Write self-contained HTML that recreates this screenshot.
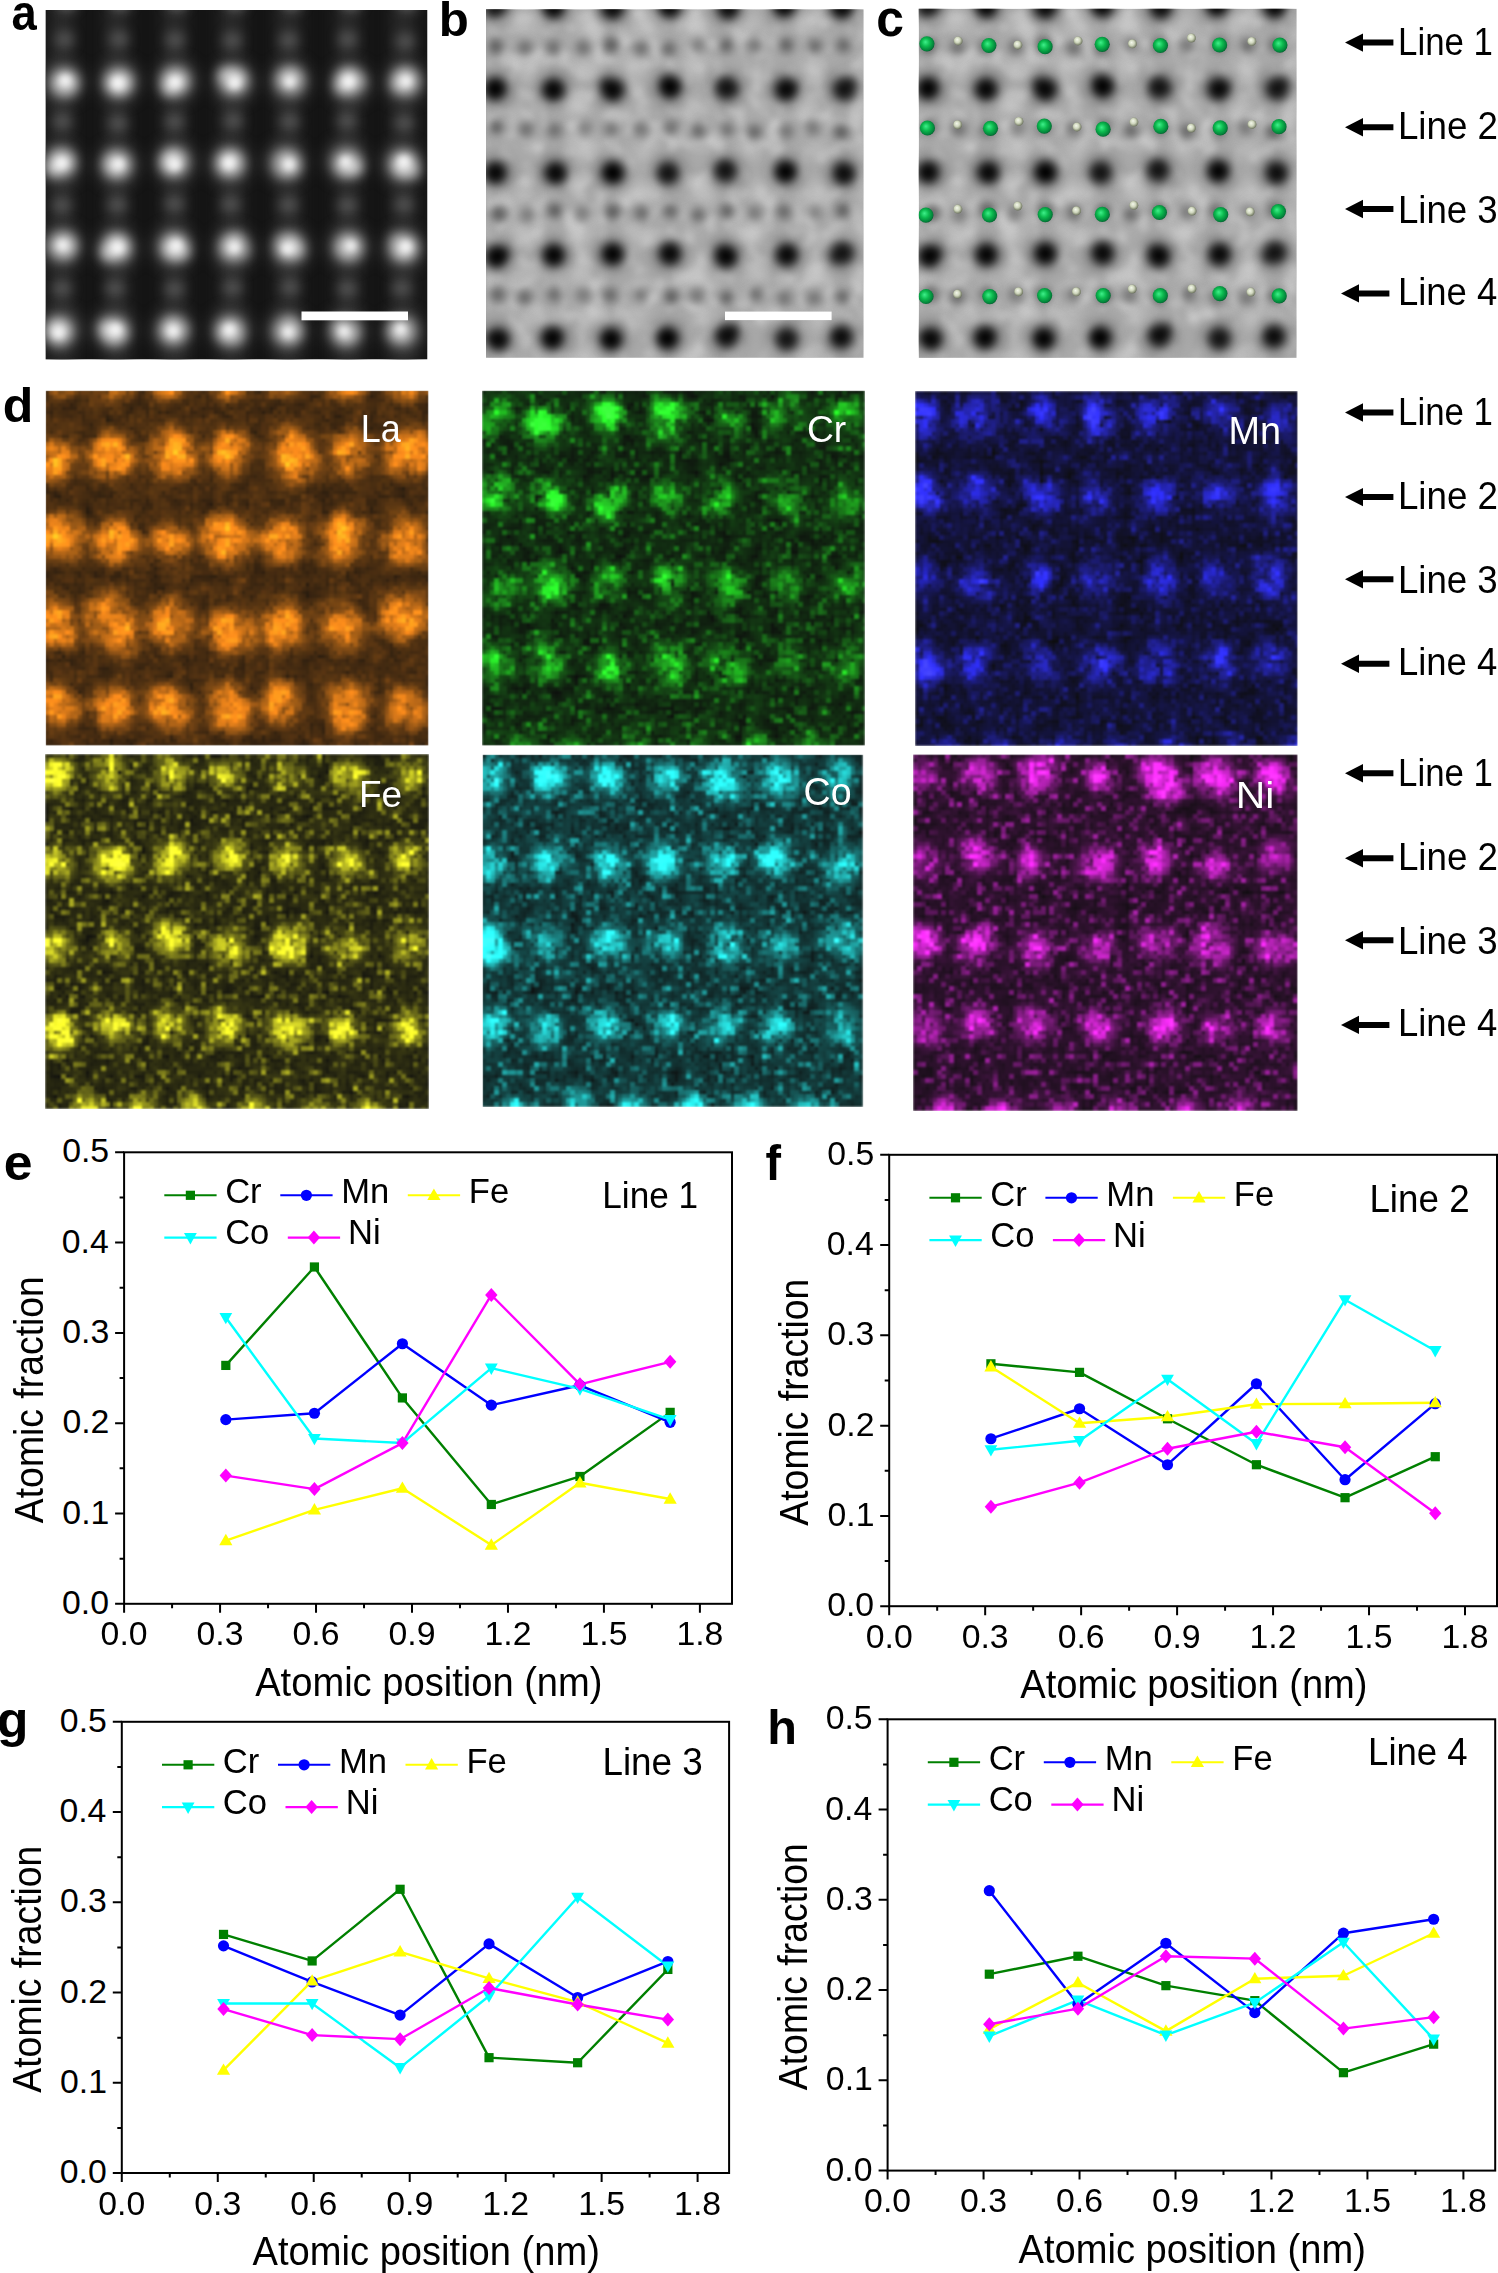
<!DOCTYPE html>
<html><head><meta charset="utf-8"><style>html,body{margin:0;padding:0;background:#fff;}body{width:1498px;height:2273px;overflow:hidden;} svg{display:block;} text{font-kerning:none;font-variant-ligatures:none;}</style></head><body>
<svg width="1498" height="2273" viewBox="0 0 1498 2273">
<defs>
<filter id="blur3" x="-50%" y="-50%" width="200%" height="200%" color-interpolation-filters="sRGB"><feGaussianBlur stdDeviation="3"/></filter>
<filter id="blur5" x="-50%" y="-50%" width="200%" height="200%" color-interpolation-filters="sRGB"><feGaussianBlur stdDeviation="5"/></filter>
<filter id="blur6" x="-50%" y="-50%" width="200%" height="200%" color-interpolation-filters="sRGB"><feGaussianBlur stdDeviation="6"/></filter>
<filter id="blur8" x="-50%" y="-50%" width="200%" height="200%" color-interpolation-filters="sRGB"><feGaussianBlur stdDeviation="8"/></filter>
<filter id="mottle" x="0" y="0" width="1" height="1" color-interpolation-filters="sRGB">
<feTurbulence type="fractalNoise" baseFrequency="0.05" numOctaves="2" seed="5"/>
<feColorMatrix type="matrix" values="0 0 0 0 1  0 0 0 0 1  0 0 0 0 1  1.0 0 0 0 -0.42"/>
<feGaussianBlur stdDeviation="2.5"/>
</filter>
<radialGradient id="gsph" cx="0.45" cy="0.45" r="0.6" fx="0.4" fy="0.38">
<stop offset="0" stop-color="#3ef08a"/><stop offset="0.45" stop-color="#0cba4e"/><stop offset="0.85" stop-color="#03803a"/><stop offset="1" stop-color="#024a22"/></radialGradient>
<radialGradient id="wsph" cx="0.45" cy="0.45" r="0.6" fx="0.4" fy="0.35">
<stop offset="0" stop-color="#f4f8ec"/><stop offset="0.5" stop-color="#cfd6bd"/><stop offset="1" stop-color="#5f6650"/></radialGradient>

<clipPath id="clipA"><rect x="45.5" y="10.0" width="382.0" height="349.5"/></clipPath>
<g id="abf">
<rect x="0" y="0" width="378.0" height="349.0" fill="#ababab"/>
<rect x="0" y="0" width="378.0" height="349.0" filter="url(#mottle)" />
<g filter="url(#blur8)">
<circle cx="-15.7" cy="-23.9" r="7.3" fill="#cdcdcd"/>
<circle cx="47.0" cy="-26.4" r="8.1" fill="#cdcdcd"/>
<circle cx="44.0" cy="14.6" r="7.5" fill="#cdcdcd"/>
<circle cx="103.3" cy="-22.1" r="8.0" fill="#cdcdcd"/>
<circle cx="103.5" cy="16.4" r="9.8" fill="#cdcdcd"/>
<circle cx="147.2" cy="-22.9" r="8.7" fill="#cdcdcd"/>
<circle cx="161.3" cy="16.8" r="10.2" fill="#cdcdcd"/>
<circle cx="217.7" cy="-26.6" r="10.5" fill="#cdcdcd"/>
<circle cx="209.4" cy="16.3" r="10.7" fill="#cdcdcd"/>
<circle cx="264.1" cy="-23.8" r="8.0" fill="#cdcdcd"/>
<circle cx="264.6" cy="13.3" r="7.8" fill="#cdcdcd"/>
<circle cx="324.6" cy="-22.4" r="8.2" fill="#cdcdcd"/>
<circle cx="322.6" cy="15.1" r="7.1" fill="#cdcdcd"/>
<circle cx="377.4" cy="-22.6" r="9.2" fill="#cdcdcd"/>
<circle cx="384.8" cy="18.6" r="7.4" fill="#cdcdcd"/>
<circle cx="-17.8" cy="100.5" r="8.6" fill="#cdcdcd"/>
<circle cx="42.5" cy="61.4" r="8.4" fill="#cdcdcd"/>
<circle cx="98.9" cy="57.9" r="8.4" fill="#cdcdcd"/>
<circle cx="90.8" cy="95.9" r="10.0" fill="#cdcdcd"/>
<circle cx="148.9" cy="56.0" r="10.4" fill="#cdcdcd"/>
<circle cx="208.5" cy="57.0" r="8.2" fill="#cdcdcd"/>
<circle cx="206.5" cy="98.2" r="8.1" fill="#cdcdcd"/>
<circle cx="323.7" cy="61.3" r="8.2" fill="#cdcdcd"/>
<circle cx="319.8" cy="97.8" r="8.9" fill="#cdcdcd"/>
<circle cx="380.4" cy="58.5" r="7.0" fill="#cdcdcd"/>
<circle cx="378.6" cy="97.9" r="7.2" fill="#cdcdcd"/>
<circle cx="-20.8" cy="139.9" r="9.3" fill="#cdcdcd"/>
<circle cx="-13.7" cy="182.4" r="9.9" fill="#cdcdcd"/>
<circle cx="36.7" cy="184.4" r="7.6" fill="#cdcdcd"/>
<circle cx="99.0" cy="138.8" r="10.3" fill="#cdcdcd"/>
<circle cx="158.0" cy="143.4" r="7.6" fill="#cdcdcd"/>
<circle cx="154.3" cy="183.5" r="10.2" fill="#cdcdcd"/>
<circle cx="218.3" cy="182.6" r="9.8" fill="#cdcdcd"/>
<circle cx="262.5" cy="139.3" r="8.4" fill="#cdcdcd"/>
<circle cx="275.4" cy="181.9" r="9.5" fill="#cdcdcd"/>
<circle cx="330.6" cy="141.4" r="7.0" fill="#cdcdcd"/>
<circle cx="331.7" cy="181.5" r="9.1" fill="#cdcdcd"/>
<circle cx="378.3" cy="142.9" r="8.0" fill="#cdcdcd"/>
<circle cx="381.4" cy="182.9" r="7.8" fill="#cdcdcd"/>
<circle cx="-10.1" cy="224.5" r="8.5" fill="#cdcdcd"/>
<circle cx="-14.8" cy="266.1" r="9.5" fill="#cdcdcd"/>
<circle cx="32.7" cy="222.4" r="8.0" fill="#cdcdcd"/>
<circle cx="36.4" cy="264.9" r="7.0" fill="#cdcdcd"/>
<circle cx="93.1" cy="225.5" r="9.8" fill="#cdcdcd"/>
<circle cx="93.4" cy="264.6" r="8.9" fill="#cdcdcd"/>
<circle cx="148.1" cy="226.9" r="7.8" fill="#cdcdcd"/>
<circle cx="211.3" cy="266.4" r="10.9" fill="#cdcdcd"/>
<circle cx="266.3" cy="222.8" r="10.8" fill="#cdcdcd"/>
<circle cx="271.3" cy="262.4" r="9.1" fill="#cdcdcd"/>
<circle cx="332.9" cy="264.6" r="10.5" fill="#cdcdcd"/>
<circle cx="380.9" cy="226.9" r="8.9" fill="#cdcdcd"/>
<circle cx="377.3" cy="264.5" r="8.8" fill="#cdcdcd"/>
<circle cx="-23.4" cy="306.6" r="8.3" fill="#cdcdcd"/>
<circle cx="43.5" cy="309.5" r="7.5" fill="#cdcdcd"/>
<circle cx="103.2" cy="306.2" r="8.5" fill="#cdcdcd"/>
<circle cx="104.7" cy="348.0" r="8.4" fill="#cdcdcd"/>
<circle cx="150.7" cy="304.8" r="7.4" fill="#cdcdcd"/>
<circle cx="219.0" cy="306.0" r="8.1" fill="#cdcdcd"/>
<circle cx="207.0" cy="346.7" r="10.8" fill="#cdcdcd"/>
<circle cx="334.4" cy="310.1" r="9.2" fill="#cdcdcd"/>
<circle cx="320.5" cy="348.9" r="8.8" fill="#cdcdcd"/>
<circle cx="387.5" cy="306.2" r="7.2" fill="#cdcdcd"/>
</g>
<g filter="url(#blur5)">
<circle cx="9.7" cy="37.1" r="7.5" fill="rgb(84,84,84)"/>
<circle cx="39.0" cy="38.7" r="7.5" fill="rgb(104,104,104)"/>
<circle cx="67.6" cy="38.3" r="7.5" fill="rgb(100,100,100)"/>
<circle cx="97.3" cy="38.3" r="7.5" fill="rgb(104,104,104)"/>
<circle cx="124.9" cy="35.8" r="7.5" fill="rgb(83,83,83)"/>
<circle cx="155.0" cy="39.1" r="7.5" fill="rgb(101,101,101)"/>
<circle cx="182.7" cy="39.5" r="7.5" fill="rgb(97,97,97)"/>
<circle cx="212.4" cy="35.7" r="7.5" fill="rgb(119,119,119)"/>
<circle cx="240.4" cy="35.9" r="7.5" fill="rgb(86,86,86)"/>
<circle cx="268.6" cy="36.2" r="7.5" fill="rgb(112,112,112)"/>
<circle cx="300.2" cy="36.0" r="7.5" fill="rgb(88,88,88)"/>
<circle cx="328.8" cy="37.1" r="7.5" fill="rgb(95,95,95)"/>
<circle cx="357.6" cy="36.1" r="7.5" fill="rgb(93,93,93)"/>
<circle cx="10.4" cy="118.3" r="7.5" fill="rgb(88,88,88)"/>
<circle cx="40.1" cy="119.8" r="7.5" fill="rgb(103,103,103)"/>
<circle cx="68.6" cy="121.1" r="7.5" fill="rgb(101,101,101)"/>
<circle cx="98.8" cy="118.5" r="7.5" fill="rgb(122,122,122)"/>
<circle cx="125.2" cy="120.0" r="7.5" fill="rgb(108,108,108)"/>
<circle cx="154.7" cy="119.6" r="7.5" fill="rgb(109,109,109)"/>
<circle cx="185.3" cy="118.1" r="7.5" fill="rgb(106,106,106)"/>
<circle cx="212.3" cy="121.8" r="7.5" fill="rgb(96,96,96)"/>
<circle cx="241.3" cy="120.9" r="7.5" fill="rgb(105,105,105)"/>
<circle cx="268.5" cy="122.7" r="7.5" fill="rgb(95,95,95)"/>
<circle cx="300.3" cy="122.3" r="7.5" fill="rgb(109,109,109)"/>
<circle cx="326.8" cy="118.5" r="7.5" fill="rgb(109,109,109)"/>
<circle cx="355.2" cy="122.9" r="7.5" fill="rgb(84,84,84)"/>
<circle cx="12.8" cy="204.6" r="7.5" fill="rgb(83,83,83)"/>
<circle cx="41.2" cy="205.5" r="7.5" fill="rgb(115,115,115)"/>
<circle cx="68.8" cy="201.2" r="7.5" fill="rgb(82,82,82)"/>
<circle cx="95.9" cy="203.8" r="7.5" fill="rgb(120,120,120)"/>
<circle cx="126.8" cy="202.5" r="7.5" fill="rgb(81,81,81)"/>
<circle cx="155.5" cy="203.6" r="7.5" fill="rgb(99,99,99)"/>
<circle cx="184.6" cy="201.6" r="7.5" fill="rgb(93,93,93)"/>
<circle cx="211.8" cy="205.7" r="7.5" fill="rgb(97,97,97)"/>
<circle cx="241.0" cy="202.1" r="7.5" fill="rgb(86,86,86)"/>
<circle cx="268.2" cy="203.7" r="7.5" fill="rgb(114,114,114)"/>
<circle cx="298.1" cy="202.6" r="7.5" fill="rgb(94,94,94)"/>
<circle cx="329.3" cy="203.4" r="7.5" fill="rgb(121,121,121)"/>
<circle cx="356.8" cy="201.1" r="7.5" fill="rgb(87,87,87)"/>
<circle cx="11.8" cy="285.5" r="7.5" fill="rgb(93,93,93)"/>
<circle cx="38.6" cy="288.4" r="7.5" fill="rgb(95,95,95)"/>
<circle cx="68.3" cy="285.3" r="7.5" fill="rgb(100,100,100)"/>
<circle cx="97.1" cy="285.9" r="7.5" fill="rgb(116,116,116)"/>
<circle cx="124.3" cy="285.7" r="7.5" fill="rgb(95,95,95)"/>
<circle cx="154.4" cy="286.0" r="7.5" fill="rgb(108,108,108)"/>
<circle cx="185.0" cy="287.7" r="7.5" fill="rgb(80,80,80)"/>
<circle cx="210.9" cy="286.5" r="7.5" fill="rgb(111,111,111)"/>
<circle cx="240.6" cy="288.1" r="7.5" fill="rgb(86,86,86)"/>
<circle cx="270.1" cy="285.3" r="7.5" fill="rgb(102,102,102)"/>
<circle cx="298.2" cy="288.8" r="7.5" fill="rgb(108,108,108)"/>
<circle cx="328.2" cy="288.5" r="7.5" fill="rgb(110,110,110)"/>
<circle cx="356.3" cy="287.3" r="7.5" fill="rgb(95,95,95)"/>
</g>
<g filter="url(#blur8)">
<circle cx="11.0" cy="-3.0" r="17" fill="#7a7a7a"/>
<circle cx="68.0" cy="-3.0" r="17" fill="#7a7a7a"/>
<circle cx="125.5" cy="-3.0" r="17" fill="#7a7a7a"/>
<circle cx="183.0" cy="-3.0" r="17" fill="#7a7a7a"/>
<circle cx="241.0" cy="-3.0" r="17" fill="#7a7a7a"/>
<circle cx="299.0" cy="-3.0" r="17" fill="#7a7a7a"/>
<circle cx="356.5" cy="-3.0" r="17" fill="#7a7a7a"/>
<circle cx="11.0" cy="79.5" r="17" fill="#7a7a7a"/>
<circle cx="68.0" cy="79.5" r="17" fill="#7a7a7a"/>
<circle cx="125.5" cy="79.5" r="17" fill="#7a7a7a"/>
<circle cx="183.0" cy="79.5" r="17" fill="#7a7a7a"/>
<circle cx="241.0" cy="79.5" r="17" fill="#7a7a7a"/>
<circle cx="299.0" cy="79.5" r="17" fill="#7a7a7a"/>
<circle cx="356.5" cy="79.5" r="17" fill="#7a7a7a"/>
<circle cx="11.0" cy="162.5" r="17" fill="#7a7a7a"/>
<circle cx="68.0" cy="162.5" r="17" fill="#7a7a7a"/>
<circle cx="125.5" cy="162.5" r="17" fill="#7a7a7a"/>
<circle cx="183.0" cy="162.5" r="17" fill="#7a7a7a"/>
<circle cx="241.0" cy="162.5" r="17" fill="#7a7a7a"/>
<circle cx="299.0" cy="162.5" r="17" fill="#7a7a7a"/>
<circle cx="356.5" cy="162.5" r="17" fill="#7a7a7a"/>
<circle cx="11.0" cy="245.5" r="17" fill="#7a7a7a"/>
<circle cx="68.0" cy="245.5" r="17" fill="#7a7a7a"/>
<circle cx="125.5" cy="245.5" r="17" fill="#7a7a7a"/>
<circle cx="183.0" cy="245.5" r="17" fill="#7a7a7a"/>
<circle cx="241.0" cy="245.5" r="17" fill="#7a7a7a"/>
<circle cx="299.0" cy="245.5" r="17" fill="#7a7a7a"/>
<circle cx="356.5" cy="245.5" r="17" fill="#7a7a7a"/>
<circle cx="11.0" cy="328.5" r="17" fill="#7a7a7a"/>
<circle cx="68.0" cy="328.5" r="17" fill="#7a7a7a"/>
<circle cx="125.5" cy="328.5" r="17" fill="#7a7a7a"/>
<circle cx="183.0" cy="328.5" r="17" fill="#7a7a7a"/>
<circle cx="241.0" cy="328.5" r="17" fill="#7a7a7a"/>
<circle cx="299.0" cy="328.5" r="17" fill="#7a7a7a"/>
<circle cx="356.5" cy="328.5" r="17" fill="#7a7a7a"/>
</g>
<g filter="url(#blur5)">
<circle cx="9.6" cy="-3.4" r="11" fill="rgb(19,19,19)"/>
<circle cx="6.1" cy="1.3" r="7" fill="rgb(19,19,19)"/>
<circle cx="67.7" cy="-2.2" r="11" fill="rgb(4,4,4)"/>
<circle cx="63.9" cy="-2.7" r="7" fill="rgb(4,4,4)"/>
<circle cx="126.4" cy="-1.0" r="11" fill="rgb(10,10,10)"/>
<circle cx="131.6" cy="-2.7" r="7" fill="rgb(10,10,10)"/>
<circle cx="183.6" cy="-2.9" r="11" fill="rgb(5,5,5)"/>
<circle cx="183.2" cy="-4.8" r="7" fill="rgb(5,5,5)"/>
<circle cx="242.4" cy="-1.1" r="11" fill="rgb(12,12,12)"/>
<circle cx="241.7" cy="-5.0" r="7" fill="rgb(12,12,12)"/>
<circle cx="298.1" cy="-3.6" r="11" fill="rgb(2,2,2)"/>
<circle cx="303.6" cy="-7.4" r="7" fill="rgb(2,2,2)"/>
<circle cx="356.0" cy="-1.9" r="11" fill="rgb(6,6,6)"/>
<circle cx="353.7" cy="1.1" r="7" fill="rgb(6,6,6)"/>
<circle cx="9.2" cy="79.4" r="11" fill="rgb(2,2,2)"/>
<circle cx="7.7" cy="83.6" r="7" fill="rgb(2,2,2)"/>
<circle cx="67.3" cy="80.4" r="11" fill="rgb(6,6,6)"/>
<circle cx="67.0" cy="81.8" r="7" fill="rgb(6,6,6)"/>
<circle cx="126.7" cy="80.6" r="11" fill="rgb(7,7,7)"/>
<circle cx="121.2" cy="75.9" r="7" fill="rgb(7,7,7)"/>
<circle cx="184.2" cy="77.7" r="11" fill="rgb(2,2,2)"/>
<circle cx="180.6" cy="73.4" r="7" fill="rgb(2,2,2)"/>
<circle cx="240.4" cy="78.6" r="11" fill="rgb(19,19,19)"/>
<circle cx="245.8" cy="79.8" r="7" fill="rgb(19,19,19)"/>
<circle cx="300.0" cy="80.3" r="11" fill="rgb(8,8,8)"/>
<circle cx="305.1" cy="78.2" r="7" fill="rgb(8,8,8)"/>
<circle cx="358.2" cy="80.0" r="11" fill="rgb(19,19,19)"/>
<circle cx="363.5" cy="75.3" r="7" fill="rgb(19,19,19)"/>
<circle cx="9.4" cy="163.4" r="11" fill="rgb(7,7,7)"/>
<circle cx="9.0" cy="166.1" r="7" fill="rgb(7,7,7)"/>
<circle cx="69.7" cy="163.8" r="11" fill="rgb(8,8,8)"/>
<circle cx="65.2" cy="163.7" r="7" fill="rgb(8,8,8)"/>
<circle cx="126.7" cy="163.5" r="11" fill="rgb(0,0,0)"/>
<circle cx="130.6" cy="166.2" r="7" fill="rgb(0,0,0)"/>
<circle cx="181.9" cy="163.9" r="11" fill="rgb(19,19,19)"/>
<circle cx="181.5" cy="166.8" r="7" fill="rgb(19,19,19)"/>
<circle cx="239.3" cy="161.3" r="11" fill="rgb(19,19,19)"/>
<circle cx="242.4" cy="158.8" r="7" fill="rgb(19,19,19)"/>
<circle cx="299.6" cy="162.4" r="11" fill="rgb(2,2,2)"/>
<circle cx="300.1" cy="159.0" r="7" fill="rgb(2,2,2)"/>
<circle cx="358.0" cy="164.5" r="11" fill="rgb(13,13,13)"/>
<circle cx="355.2" cy="160.3" r="7" fill="rgb(13,13,13)"/>
<circle cx="10.7" cy="247.5" r="11" fill="rgb(3,3,3)"/>
<circle cx="16.3" cy="244.2" r="7" fill="rgb(3,3,3)"/>
<circle cx="67.7" cy="246.0" r="11" fill="rgb(4,4,4)"/>
<circle cx="69.8" cy="248.5" r="7" fill="rgb(4,4,4)"/>
<circle cx="126.6" cy="244.7" r="11" fill="rgb(3,3,3)"/>
<circle cx="124.0" cy="242.4" r="7" fill="rgb(3,3,3)"/>
<circle cx="184.0" cy="244.3" r="11" fill="rgb(8,8,8)"/>
<circle cx="180.9" cy="241.8" r="7" fill="rgb(8,8,8)"/>
<circle cx="240.1" cy="247.1" r="11" fill="rgb(4,4,4)"/>
<circle cx="236.4" cy="242.8" r="7" fill="rgb(4,4,4)"/>
<circle cx="301.0" cy="245.5" r="11" fill="rgb(8,8,8)"/>
<circle cx="297.7" cy="248.6" r="7" fill="rgb(8,8,8)"/>
<circle cx="356.4" cy="243.6" r="11" fill="rgb(20,20,20)"/>
<circle cx="350.4" cy="247.5" r="7" fill="rgb(20,20,20)"/>
<circle cx="12.4" cy="330.2" r="11" fill="rgb(7,7,7)"/>
<circle cx="6.8" cy="328.1" r="7" fill="rgb(7,7,7)"/>
<circle cx="66.2" cy="328.9" r="11" fill="rgb(3,3,3)"/>
<circle cx="70.1" cy="325.8" r="7" fill="rgb(3,3,3)"/>
<circle cx="125.0" cy="330.0" r="11" fill="rgb(2,2,2)"/>
<circle cx="124.4" cy="327.6" r="7" fill="rgb(2,2,2)"/>
<circle cx="181.4" cy="328.9" r="11" fill="rgb(0,0,0)"/>
<circle cx="182.9" cy="326.1" r="7" fill="rgb(0,0,0)"/>
<circle cx="240.4" cy="326.7" r="11" fill="rgb(11,11,11)"/>
<circle cx="246.4" cy="322.1" r="7" fill="rgb(11,11,11)"/>
<circle cx="300.7" cy="329.8" r="11" fill="rgb(20,20,20)"/>
<circle cx="304.5" cy="328.8" r="7" fill="rgb(20,20,20)"/>
<circle cx="355.2" cy="327.7" r="11" fill="rgb(11,11,11)"/>
<circle cx="351.7" cy="330.7" r="7" fill="rgb(11,11,11)"/>
</g>
</g>
<clipPath id="clipB"><rect x="486" y="9.3" width="377.5" height="348.5"/></clipPath>
<clipPath id="clipC"><rect x="918.7" y="8.8" width="378" height="349.2"/></clipPath>
<clipPath id="clipLa"><rect x="45.8" y="390.8" width="382.6" height="354.7"/></clipPath>
<filter id="noiseLa" filterUnits="userSpaceOnUse" x="45" y="390" width="384" height="356" color-interpolation-filters="sRGB">
<feGaussianBlur in="SourceGraphic" stdDeviation="7.0" result="b"/>
<feTurbulence type="fractalNoise" baseFrequency="0.200" numOctaves="1" seed="3" result="nh0"/>
<feColorMatrix in="nh0" type="matrix" values="1 0 0 0 0  1 0 0 0 0  1 0 0 0 0  0 0 0 0 1" result="nh"/>
<feTurbulence type="fractalNoise" baseFrequency="0.060" numOctaves="2" seed="103" result="nl0"/>
<feColorMatrix in="nl0" type="matrix" values="1 0 0 0 0  1 0 0 0 0  1 0 0 0 0  0 0 0 0 1" result="nl"/>
<feComposite in="nh" in2="nl" operator="arithmetic" k1="0" k2="0.50" k3="0.60" k4="-0.050" result="n2"/>
<feComposite in="b" in2="n2" operator="arithmetic" k1="1.95" k2="0" k3="0" k4="0" result="m"/>
<feTurbulence type="fractalNoise" baseFrequency="0.13" numOctaves="2" seed="203" result="sp0"/>
<feColorMatrix in="sp0" type="matrix" values="0 0 0 0 0  0 0 0 0 0  0 0 0 0 0  0 4.00 0 0 -2.240" result="spa"/>
<feFlood flood-color="#ff8810" result="fc"/>
<feComposite in="fc" in2="spa" operator="in" result="cs"/>
<feComposite in="m" in2="cs" operator="arithmetic" k1="0" k2="1" k3="0.10" k4="0.050" result="m2"/>
<feFlood x="47" y="392" width="1" height="1" flood-color="#fff" result="fl"/>
<feComposite in="fl" in2="fl" operator="over" x="45" y="390" width="4" height="4" result="cell"/>
<feTile in="cell" x="45" y="390" width="384" height="356" result="grid"/>
<feComposite in="m2" in2="grid" operator="in" result="s"/>
<feMorphology in="s" operator="dilate" radius="2" result="p"/>
<feGaussianBlur in="p" stdDeviation="1.1"/>
</filter>
<clipPath id="clipCr"><rect x="482.0" y="390.7" width="383.0" height="354.8"/></clipPath>
<filter id="noiseCr" filterUnits="userSpaceOnUse" x="482" y="390" width="383" height="356" color-interpolation-filters="sRGB">
<feGaussianBlur in="SourceGraphic" stdDeviation="6.0" result="b"/>
<feTurbulence type="fractalNoise" baseFrequency="0.200" numOctaves="1" seed="11" result="nh0"/>
<feColorMatrix in="nh0" type="matrix" values="1 0 0 0 0  1 0 0 0 0  1 0 0 0 0  0 0 0 0 1" result="nh"/>
<feTurbulence type="fractalNoise" baseFrequency="0.060" numOctaves="2" seed="111" result="nl0"/>
<feColorMatrix in="nl0" type="matrix" values="1 0 0 0 0  1 0 0 0 0  1 0 0 0 0  0 0 0 0 1" result="nl"/>
<feComposite in="nh" in2="nl" operator="arithmetic" k1="0" k2="0.90" k3="1.20" k4="-0.550" result="n2"/>
<feComposite in="b" in2="n2" operator="arithmetic" k1="2.40" k2="0" k3="0" k4="0" result="m"/>
<feTurbulence type="fractalNoise" baseFrequency="0.13" numOctaves="2" seed="211" result="sp0"/>
<feColorMatrix in="sp0" type="matrix" values="0 0 0 0 0  0 0 0 0 0  0 0 0 0 0  0 4.00 0 0 -2.240" result="spa"/>
<feFlood flood-color="#1ee61e" result="fc"/>
<feComposite in="fc" in2="spa" operator="in" result="cs"/>
<feComposite in="m" in2="cs" operator="arithmetic" k1="0" k2="1" k3="0.45" k4="0.050" result="m2"/>
<feFlood x="484" y="392" width="1" height="1" flood-color="#fff" result="fl"/>
<feComposite in="fl" in2="fl" operator="over" x="482" y="390" width="4" height="4" result="cell"/>
<feTile in="cell" x="482" y="390" width="383" height="356" result="grid"/>
<feComposite in="m2" in2="grid" operator="in" result="s"/>
<feMorphology in="s" operator="dilate" radius="2" result="p"/>
<feGaussianBlur in="p" stdDeviation="1.1"/>
</filter>
<clipPath id="clipMn"><rect x="915.0" y="391.0" width="382.6" height="355.0"/></clipPath>
<filter id="noiseMn" filterUnits="userSpaceOnUse" x="915" y="391" width="383" height="355" color-interpolation-filters="sRGB">
<feGaussianBlur in="SourceGraphic" stdDeviation="6.0" result="b"/>
<feTurbulence type="fractalNoise" baseFrequency="0.200" numOctaves="1" seed="17" result="nh0"/>
<feColorMatrix in="nh0" type="matrix" values="1 0 0 0 0  1 0 0 0 0  1 0 0 0 0  0 0 0 0 1" result="nh"/>
<feTurbulence type="fractalNoise" baseFrequency="0.060" numOctaves="2" seed="117" result="nl0"/>
<feColorMatrix in="nl0" type="matrix" values="1 0 0 0 0  1 0 0 0 0  1 0 0 0 0  0 0 0 0 1" result="nl"/>
<feComposite in="nh" in2="nl" operator="arithmetic" k1="0" k2="0.90" k3="1.20" k4="-0.550" result="n2"/>
<feComposite in="b" in2="n2" operator="arithmetic" k1="2.40" k2="0" k3="0" k4="0" result="m"/>
<feTurbulence type="fractalNoise" baseFrequency="0.13" numOctaves="2" seed="217" result="sp0"/>
<feColorMatrix in="sp0" type="matrix" values="0 0 0 0 0  0 0 0 0 0  0 0 0 0 0  0 4.00 0 0 -2.240" result="spa"/>
<feFlood flood-color="#2828ff" result="fc"/>
<feComposite in="fc" in2="spa" operator="in" result="cs"/>
<feComposite in="m" in2="cs" operator="arithmetic" k1="0" k2="1" k3="0.35" k4="0.050" result="m2"/>
<feFlood x="917" y="393" width="1" height="1" flood-color="#fff" result="fl"/>
<feComposite in="fl" in2="fl" operator="over" x="915" y="391" width="4" height="4" result="cell"/>
<feTile in="cell" x="915" y="391" width="383" height="355" result="grid"/>
<feComposite in="m2" in2="grid" operator="in" result="s"/>
<feMorphology in="s" operator="dilate" radius="2" result="p"/>
<feGaussianBlur in="p" stdDeviation="1.1"/>
</filter>
<clipPath id="clipFe"><rect x="45.8" y="754.4" width="382.6" height="354.6"/></clipPath>
<filter id="noiseFe" filterUnits="userSpaceOnUse" x="45" y="754" width="384" height="355" color-interpolation-filters="sRGB">
<feGaussianBlur in="SourceGraphic" stdDeviation="6.0" result="b"/>
<feTurbulence type="fractalNoise" baseFrequency="0.200" numOctaves="1" seed="23" result="nh0"/>
<feColorMatrix in="nh0" type="matrix" values="1 0 0 0 0  1 0 0 0 0  1 0 0 0 0  0 0 0 0 1" result="nh"/>
<feTurbulence type="fractalNoise" baseFrequency="0.060" numOctaves="2" seed="123" result="nl0"/>
<feColorMatrix in="nl0" type="matrix" values="1 0 0 0 0  1 0 0 0 0  1 0 0 0 0  0 0 0 0 1" result="nl"/>
<feComposite in="nh" in2="nl" operator="arithmetic" k1="0" k2="1.00" k3="0.80" k4="-0.400" result="n2"/>
<feComposite in="b" in2="n2" operator="arithmetic" k1="2.40" k2="0" k3="0" k4="0" result="m"/>
<feTurbulence type="fractalNoise" baseFrequency="0.13" numOctaves="2" seed="223" result="sp0"/>
<feColorMatrix in="sp0" type="matrix" values="0 0 0 0 0  0 0 0 0 0  0 0 0 0 0  0 4.00 0 0 -2.240" result="spa"/>
<feFlood flood-color="#e6e61e" result="fc"/>
<feComposite in="fc" in2="spa" operator="in" result="cs"/>
<feComposite in="m" in2="cs" operator="arithmetic" k1="0" k2="1" k3="0.60" k4="0.050" result="m2"/>
<feFlood x="47" y="756" width="1" height="1" flood-color="#fff" result="fl"/>
<feComposite in="fl" in2="fl" operator="over" x="45" y="754" width="4" height="4" result="cell"/>
<feTile in="cell" x="45" y="754" width="384" height="355" result="grid"/>
<feComposite in="m2" in2="grid" operator="in" result="s"/>
<feMorphology in="s" operator="dilate" radius="2" result="p"/>
<feGaussianBlur in="p" stdDeviation="1.1"/>
</filter>
<clipPath id="clipCo"><rect x="482.7" y="754.7" width="380.6" height="352.3"/></clipPath>
<filter id="noiseCo" filterUnits="userSpaceOnUse" x="482" y="754" width="382" height="353" color-interpolation-filters="sRGB">
<feGaussianBlur in="SourceGraphic" stdDeviation="6.0" result="b"/>
<feTurbulence type="fractalNoise" baseFrequency="0.200" numOctaves="1" seed="29" result="nh0"/>
<feColorMatrix in="nh0" type="matrix" values="1 0 0 0 0  1 0 0 0 0  1 0 0 0 0  0 0 0 0 1" result="nh"/>
<feTurbulence type="fractalNoise" baseFrequency="0.060" numOctaves="2" seed="129" result="nl0"/>
<feColorMatrix in="nl0" type="matrix" values="1 0 0 0 0  1 0 0 0 0  1 0 0 0 0  0 0 0 0 1" result="nl"/>
<feComposite in="nh" in2="nl" operator="arithmetic" k1="0" k2="1.00" k3="0.80" k4="-0.400" result="n2"/>
<feComposite in="b" in2="n2" operator="arithmetic" k1="2.40" k2="0" k3="0" k4="0" result="m"/>
<feTurbulence type="fractalNoise" baseFrequency="0.13" numOctaves="2" seed="229" result="sp0"/>
<feColorMatrix in="sp0" type="matrix" values="0 0 0 0 0  0 0 0 0 0  0 0 0 0 0  0 4.00 0 0 -2.240" result="spa"/>
<feFlood flood-color="#1ee6e6" result="fc"/>
<feComposite in="fc" in2="spa" operator="in" result="cs"/>
<feComposite in="m" in2="cs" operator="arithmetic" k1="0" k2="1" k3="0.55" k4="0.050" result="m2"/>
<feFlood x="484" y="756" width="1" height="1" flood-color="#fff" result="fl"/>
<feComposite in="fl" in2="fl" operator="over" x="482" y="754" width="4" height="4" result="cell"/>
<feTile in="cell" x="482" y="754" width="382" height="353" result="grid"/>
<feComposite in="m2" in2="grid" operator="in" result="s"/>
<feMorphology in="s" operator="dilate" radius="2" result="p"/>
<feGaussianBlur in="p" stdDeviation="1.1"/>
</filter>
<clipPath id="clipNi"><rect x="913.0" y="754.4" width="384.6" height="356.6"/></clipPath>
<filter id="noiseNi" filterUnits="userSpaceOnUse" x="913" y="754" width="385" height="357" color-interpolation-filters="sRGB">
<feGaussianBlur in="SourceGraphic" stdDeviation="6.0" result="b"/>
<feTurbulence type="fractalNoise" baseFrequency="0.200" numOctaves="1" seed="31" result="nh0"/>
<feColorMatrix in="nh0" type="matrix" values="1 0 0 0 0  1 0 0 0 0  1 0 0 0 0  0 0 0 0 1" result="nh"/>
<feTurbulence type="fractalNoise" baseFrequency="0.060" numOctaves="2" seed="131" result="nl0"/>
<feColorMatrix in="nl0" type="matrix" values="1 0 0 0 0  1 0 0 0 0  1 0 0 0 0  0 0 0 0 1" result="nl"/>
<feComposite in="nh" in2="nl" operator="arithmetic" k1="0" k2="1.00" k3="0.80" k4="-0.400" result="n2"/>
<feComposite in="b" in2="n2" operator="arithmetic" k1="2.40" k2="0" k3="0" k4="0" result="m"/>
<feTurbulence type="fractalNoise" baseFrequency="0.13" numOctaves="2" seed="231" result="sp0"/>
<feColorMatrix in="sp0" type="matrix" values="0 0 0 0 0  0 0 0 0 0  0 0 0 0 0  0 4.00 0 0 -2.240" result="spa"/>
<feFlood flood-color="#e61ee6" result="fc"/>
<feComposite in="fc" in2="spa" operator="in" result="cs"/>
<feComposite in="m" in2="cs" operator="arithmetic" k1="0" k2="1" k3="0.55" k4="0.050" result="m2"/>
<feFlood x="915" y="756" width="1" height="1" flood-color="#fff" result="fl"/>
<feComposite in="fl" in2="fl" operator="over" x="913" y="754" width="4" height="4" result="cell"/>
<feTile in="cell" x="913" y="754" width="385" height="357" result="grid"/>
<feComposite in="m2" in2="grid" operator="in" result="s"/>
<feMorphology in="s" operator="dilate" radius="2" result="p"/>
<feGaussianBlur in="p" stdDeviation="1.1"/>
</filter>
</defs>
<rect width="1498" height="2273" fill="#fff"/>
<g clip-path="url(#clipA)">
<rect x="45.5" y="10.0" width="382.0" height="349.5" fill="#141414"/>
<g filter="url(#blur8)">
<rect x="50.1" y="0" width="24" height="370" fill="#2a2a2a"/>
<rect x="104.7" y="0" width="24" height="370" fill="#2a2a2a"/>
<rect x="162.3" y="0" width="24" height="370" fill="#2a2a2a"/>
<rect x="219.8" y="0" width="24" height="370" fill="#2a2a2a"/>
<rect x="276.6" y="0" width="24" height="370" fill="#2a2a2a"/>
<rect x="335.8" y="0" width="24" height="370" fill="#2a2a2a"/>
<rect x="391.6" y="0" width="24" height="370" fill="#2a2a2a"/>
</g>
<g filter="url(#blur6)">
<circle cx="64.5" cy="39.5" r="9" fill="#545454"/>
<circle cx="119.0" cy="39.2" r="9" fill="#545454"/>
<circle cx="175.1" cy="40.1" r="9" fill="#545454"/>
<circle cx="232.3" cy="40.5" r="9" fill="#545454"/>
<circle cx="288.6" cy="40.3" r="9" fill="#545454"/>
<circle cx="347.7" cy="39.3" r="9" fill="#545454"/>
<circle cx="405.3" cy="41.5" r="9" fill="#545454"/>
<circle cx="62.2" cy="121.2" r="9" fill="#545454"/>
<circle cx="118.0" cy="123.3" r="9" fill="#545454"/>
<circle cx="174.5" cy="121.7" r="9" fill="#545454"/>
<circle cx="233.2" cy="120.6" r="9" fill="#545454"/>
<circle cx="289.6" cy="121.4" r="9" fill="#545454"/>
<circle cx="346.9" cy="120.9" r="9" fill="#545454"/>
<circle cx="404.2" cy="122.9" r="9" fill="#545454"/>
<circle cx="61.6" cy="205.2" r="9" fill="#545454"/>
<circle cx="117.2" cy="204.6" r="9" fill="#545454"/>
<circle cx="174.4" cy="203.7" r="9" fill="#545454"/>
<circle cx="230.5" cy="204.1" r="9" fill="#545454"/>
<circle cx="288.4" cy="204.8" r="9" fill="#545454"/>
<circle cx="347.4" cy="205.3" r="9" fill="#545454"/>
<circle cx="403.9" cy="204.4" r="9" fill="#545454"/>
<circle cx="61.8" cy="288.6" r="9" fill="#545454"/>
<circle cx="114.9" cy="288.2" r="9" fill="#545454"/>
<circle cx="174.4" cy="289.1" r="9" fill="#545454"/>
<circle cx="232.5" cy="287.4" r="9" fill="#545454"/>
<circle cx="290.1" cy="286.9" r="9" fill="#545454"/>
<circle cx="347.3" cy="288.8" r="9" fill="#545454"/>
<circle cx="401.5" cy="288.0" r="9" fill="#545454"/>
<circle cx="67.0" cy="1.0" r="10" fill="#6a6a6a"/>
<circle cx="120.5" cy="1.0" r="10" fill="#6a6a6a"/>
<circle cx="177.0" cy="1.0" r="10" fill="#6a6a6a"/>
<circle cx="235.6" cy="1.0" r="10" fill="#6a6a6a"/>
<circle cx="292.0" cy="1.0" r="10" fill="#6a6a6a"/>
<circle cx="351.0" cy="1.0" r="10" fill="#6a6a6a"/>
<circle cx="407.5" cy="1.0" r="10" fill="#6a6a6a"/>
</g>
<g filter="url(#blur8)">
<circle cx="63.2" cy="82.2" r="18" fill="#626262"/>
<circle cx="119.6" cy="81.8" r="18" fill="#626262"/>
<circle cx="176.5" cy="80.8" r="18" fill="#626262"/>
<circle cx="234.4" cy="81.9" r="18" fill="#626262"/>
<circle cx="290.3" cy="81.3" r="18" fill="#626262"/>
<circle cx="350.4" cy="83.3" r="18" fill="#626262"/>
<circle cx="405.4" cy="82.2" r="18" fill="#626262"/>
<circle cx="59.9" cy="163.8" r="18" fill="#626262"/>
<circle cx="117.4" cy="165.0" r="18" fill="#626262"/>
<circle cx="174.9" cy="162.1" r="18" fill="#626262"/>
<circle cx="229.5" cy="163.7" r="18" fill="#626262"/>
<circle cx="285.1" cy="162.8" r="18" fill="#626262"/>
<circle cx="345.7" cy="161.5" r="18" fill="#626262"/>
<circle cx="402.2" cy="164.1" r="18" fill="#626262"/>
<circle cx="61.9" cy="246.0" r="18" fill="#626262"/>
<circle cx="116.4" cy="248.5" r="18" fill="#626262"/>
<circle cx="173.3" cy="246.8" r="18" fill="#626262"/>
<circle cx="233.8" cy="248.5" r="18" fill="#626262"/>
<circle cx="290.0" cy="248.5" r="18" fill="#626262"/>
<circle cx="348.1" cy="246.7" r="18" fill="#626262"/>
<circle cx="403.4" cy="248.5" r="18" fill="#626262"/>
<circle cx="60.3" cy="329.6" r="18" fill="#626262"/>
<circle cx="113.2" cy="329.9" r="18" fill="#626262"/>
<circle cx="172.5" cy="330.9" r="18" fill="#626262"/>
<circle cx="230.4" cy="330.1" r="18" fill="#626262"/>
<circle cx="286.7" cy="330.7" r="18" fill="#626262"/>
<circle cx="345.5" cy="331.3" r="18" fill="#626262"/>
<circle cx="402.8" cy="331.8" r="18" fill="#626262"/>
</g>
<g filter="url(#blur6)">
<circle cx="65.0" cy="82.9" r="12" fill="rgb(231,231,231)"/>
<circle cx="67.2" cy="85.7" r="8" fill="rgb(231,231,231)"/>
<circle cx="64.3" cy="88.2" r="7" fill="rgb(201,201,201)"/>
<circle cx="118.5" cy="82.6" r="12" fill="rgb(245,245,245)"/>
<circle cx="122.7" cy="81.3" r="8" fill="rgb(245,245,245)"/>
<circle cx="116.9" cy="78.0" r="7" fill="rgb(215,215,215)"/>
<circle cx="175.0" cy="81.2" r="12" fill="rgb(235,235,235)"/>
<circle cx="170.7" cy="87.0" r="8" fill="rgb(235,235,235)"/>
<circle cx="174.1" cy="76.6" r="7" fill="rgb(205,205,205)"/>
<circle cx="233.6" cy="80.2" r="12" fill="rgb(234,234,234)"/>
<circle cx="226.6" cy="76.0" r="8" fill="rgb(234,234,234)"/>
<circle cx="227.2" cy="78.9" r="7" fill="rgb(204,204,204)"/>
<circle cx="290.0" cy="80.2" r="12" fill="rgb(215,215,215)"/>
<circle cx="285.9" cy="78.7" r="8" fill="rgb(215,215,215)"/>
<circle cx="292.2" cy="86.6" r="7" fill="rgb(185,185,185)"/>
<circle cx="349.0" cy="81.1" r="12" fill="rgb(234,234,234)"/>
<circle cx="343.7" cy="85.3" r="8" fill="rgb(234,234,234)"/>
<circle cx="356.9" cy="81.2" r="7" fill="rgb(204,204,204)"/>
<circle cx="405.5" cy="80.9" r="12" fill="rgb(230,230,230)"/>
<circle cx="400.5" cy="83.9" r="8" fill="rgb(230,230,230)"/>
<circle cx="409.3" cy="81.2" r="7" fill="rgb(200,200,200)"/>
<circle cx="61.7" cy="162.0" r="12" fill="rgb(237,237,237)"/>
<circle cx="55.0" cy="167.4" r="8" fill="rgb(237,237,237)"/>
<circle cx="62.2" cy="157.9" r="7" fill="rgb(207,207,207)"/>
<circle cx="116.8" cy="164.2" r="12" fill="rgb(232,232,232)"/>
<circle cx="120.4" cy="161.8" r="8" fill="rgb(232,232,232)"/>
<circle cx="119.1" cy="159.4" r="7" fill="rgb(202,202,202)"/>
<circle cx="173.6" cy="162.3" r="12" fill="rgb(242,242,242)"/>
<circle cx="171.7" cy="158.3" r="8" fill="rgb(242,242,242)"/>
<circle cx="178.0" cy="163.2" r="7" fill="rgb(212,212,212)"/>
<circle cx="230.0" cy="163.0" r="12" fill="rgb(239,239,239)"/>
<circle cx="231.9" cy="164.4" r="8" fill="rgb(239,239,239)"/>
<circle cx="234.6" cy="166.9" r="7" fill="rgb(209,209,209)"/>
<circle cx="287.0" cy="163.9" r="12" fill="rgb(221,221,221)"/>
<circle cx="291.5" cy="166.8" r="8" fill="rgb(221,221,221)"/>
<circle cx="282.6" cy="164.6" r="7" fill="rgb(191,191,191)"/>
<circle cx="347.0" cy="163.7" r="12" fill="rgb(226,226,226)"/>
<circle cx="353.9" cy="167.2" r="8" fill="rgb(226,226,226)"/>
<circle cx="346.6" cy="160.2" r="7" fill="rgb(196,196,196)"/>
<circle cx="404.0" cy="164.4" r="12" fill="rgb(234,234,234)"/>
<circle cx="403.3" cy="169.6" r="8" fill="rgb(234,234,234)"/>
<circle cx="411.8" cy="170.8" r="7" fill="rgb(204,204,204)"/>
<circle cx="63.4" cy="245.7" r="12" fill="rgb(226,226,226)"/>
<circle cx="57.8" cy="245.4" r="8" fill="rgb(226,226,226)"/>
<circle cx="60.8" cy="246.0" r="7" fill="rgb(196,196,196)"/>
<circle cx="116.8" cy="247.3" r="12" fill="rgb(243,243,243)"/>
<circle cx="109.8" cy="252.2" r="8" fill="rgb(243,243,243)"/>
<circle cx="114.3" cy="249.7" r="7" fill="rgb(213,213,213)"/>
<circle cx="175.0" cy="247.5" r="12" fill="rgb(241,241,241)"/>
<circle cx="180.7" cy="250.9" r="8" fill="rgb(241,241,241)"/>
<circle cx="179.0" cy="247.7" r="7" fill="rgb(211,211,211)"/>
<circle cx="233.6" cy="246.8" r="12" fill="rgb(220,220,220)"/>
<circle cx="235.5" cy="241.8" r="8" fill="rgb(220,220,220)"/>
<circle cx="240.7" cy="250.2" r="7" fill="rgb(190,190,190)"/>
<circle cx="288.7" cy="246.7" r="12" fill="rgb(229,229,229)"/>
<circle cx="295.0" cy="249.4" r="8" fill="rgb(229,229,229)"/>
<circle cx="283.4" cy="242.4" r="7" fill="rgb(199,199,199)"/>
<circle cx="349.0" cy="247.3" r="12" fill="rgb(219,219,219)"/>
<circle cx="348.5" cy="249.1" r="8" fill="rgb(219,219,219)"/>
<circle cx="350.8" cy="249.0" r="7" fill="rgb(189,189,189)"/>
<circle cx="404.0" cy="247.5" r="12" fill="rgb(230,230,230)"/>
<circle cx="401.9" cy="248.1" r="8" fill="rgb(230,230,230)"/>
<circle cx="398.1" cy="241.7" r="7" fill="rgb(200,200,200)"/>
<circle cx="58.5" cy="331.4" r="12" fill="rgb(238,238,238)"/>
<circle cx="58.9" cy="336.7" r="8" fill="rgb(238,238,238)"/>
<circle cx="57.4" cy="336.8" r="7" fill="rgb(208,208,208)"/>
<circle cx="114.5" cy="332.1" r="12" fill="rgb(241,241,241)"/>
<circle cx="107.9" cy="328.7" r="8" fill="rgb(241,241,241)"/>
<circle cx="114.5" cy="336.0" r="7" fill="rgb(211,211,211)"/>
<circle cx="173.6" cy="330.3" r="12" fill="rgb(225,225,225)"/>
<circle cx="172.5" cy="325.9" r="8" fill="rgb(225,225,225)"/>
<circle cx="180.2" cy="328.9" r="7" fill="rgb(195,195,195)"/>
<circle cx="230.0" cy="331.5" r="12" fill="rgb(229,229,229)"/>
<circle cx="234.4" cy="331.7" r="8" fill="rgb(229,229,229)"/>
<circle cx="235.2" cy="336.9" r="7" fill="rgb(199,199,199)"/>
<circle cx="288.7" cy="331.1" r="12" fill="rgb(219,219,219)"/>
<circle cx="289.0" cy="325.3" r="8" fill="rgb(219,219,219)"/>
<circle cx="287.7" cy="327.5" r="7" fill="rgb(189,189,189)"/>
<circle cx="346.0" cy="331.8" r="12" fill="rgb(215,215,215)"/>
<circle cx="341.1" cy="327.5" r="8" fill="rgb(215,215,215)"/>
<circle cx="347.9" cy="327.4" r="7" fill="rgb(185,185,185)"/>
<circle cx="401.0" cy="330.5" r="12" fill="rgb(216,216,216)"/>
<circle cx="401.3" cy="331.1" r="8" fill="rgb(216,216,216)"/>
<circle cx="405.5" cy="325.9" r="7" fill="rgb(186,186,186)"/>
</g>
<g filter="url(#blur3)">
<circle cx="65.2" cy="80.5" r="5" fill="#fff" opacity="0.8"/>
<circle cx="117.6" cy="82.6" r="5" fill="#fff" opacity="0.8"/>
<circle cx="175.0" cy="81.7" r="5" fill="#fff" opacity="0.8"/>
<circle cx="234.6" cy="83.1" r="5" fill="#fff" opacity="0.8"/>
<circle cx="289.8" cy="82.0" r="5" fill="#fff" opacity="0.8"/>
<circle cx="349.0" cy="81.5" r="5" fill="#fff" opacity="0.8"/>
<circle cx="406.3" cy="81.3" r="5" fill="#fff" opacity="0.8"/>
<circle cx="61.8" cy="162.9" r="5" fill="#fff" opacity="0.8"/>
<circle cx="118.6" cy="163.8" r="5" fill="#fff" opacity="0.8"/>
<circle cx="175.1" cy="164.8" r="5" fill="#fff" opacity="0.8"/>
<circle cx="229.0" cy="163.2" r="5" fill="#fff" opacity="0.8"/>
<circle cx="288.8" cy="164.4" r="5" fill="#fff" opacity="0.8"/>
<circle cx="345.5" cy="161.5" r="5" fill="#fff" opacity="0.8"/>
<circle cx="403.8" cy="161.3" r="5" fill="#fff" opacity="0.8"/>
<circle cx="62.4" cy="245.3" r="5" fill="#fff" opacity="0.8"/>
<circle cx="117.5" cy="248.1" r="5" fill="#fff" opacity="0.8"/>
<circle cx="176.6" cy="245.6" r="5" fill="#fff" opacity="0.8"/>
<circle cx="234.5" cy="247.6" r="5" fill="#fff" opacity="0.8"/>
<circle cx="287.3" cy="248.5" r="5" fill="#fff" opacity="0.8"/>
<circle cx="350.9" cy="245.9" r="5" fill="#fff" opacity="0.8"/>
<circle cx="405.8" cy="246.6" r="5" fill="#fff" opacity="0.8"/>
<circle cx="58.4" cy="333.0" r="5" fill="#fff" opacity="0.8"/>
<circle cx="115.8" cy="329.6" r="5" fill="#fff" opacity="0.8"/>
<circle cx="173.3" cy="331.1" r="5" fill="#fff" opacity="0.8"/>
<circle cx="229.4" cy="329.8" r="5" fill="#fff" opacity="0.8"/>
<circle cx="288.0" cy="331.9" r="5" fill="#fff" opacity="0.8"/>
<circle cx="344.1" cy="331.2" r="5" fill="#fff" opacity="0.8"/>
<circle cx="400.8" cy="329.1" r="5" fill="#fff" opacity="0.8"/>
</g>
</g>
<rect x="301.5" y="311.5" width="106.5" height="8.8" fill="#fff"/>
<g clip-path="url(#clipB)"><use href="#abf" transform="translate(486 9.3)"/></g>
<rect x="725" y="311.6" width="106.6" height="8.5" fill="#fff"/>
<g clip-path="url(#clipC)"><use href="#abf" transform="translate(918.7 8.8)"/>
<circle cx="926.9" cy="43.8" r="7.6" fill="url(#gsph)"/>
<circle cx="988.9" cy="45.5" r="7.6" fill="url(#gsph)"/>
<circle cx="1045.1" cy="46.7" r="7.6" fill="url(#gsph)"/>
<circle cx="1102.2" cy="44.3" r="7.6" fill="url(#gsph)"/>
<circle cx="1160.4" cy="45.5" r="7.6" fill="url(#gsph)"/>
<circle cx="1219.6" cy="45.0" r="7.6" fill="url(#gsph)"/>
<circle cx="1279.9" cy="45.1" r="7.6" fill="url(#gsph)"/>
<circle cx="958.1" cy="40.9" r="4.5" fill="url(#wsph)"/>
<circle cx="1017.8" cy="44.9" r="4.5" fill="url(#wsph)"/>
<circle cx="1078.0" cy="40.9" r="4.5" fill="url(#wsph)"/>
<circle cx="1132.4" cy="43.8" r="4.5" fill="url(#wsph)"/>
<circle cx="1191.4" cy="38.0" r="4.5" fill="url(#wsph)"/>
<circle cx="1251.8" cy="41.4" r="4.5" fill="url(#wsph)"/>
<circle cx="927.4" cy="128.0" r="7.6" fill="url(#gsph)"/>
<circle cx="990.5" cy="128.3" r="7.6" fill="url(#gsph)"/>
<circle cx="1044.3" cy="126.1" r="7.6" fill="url(#gsph)"/>
<circle cx="1103.1" cy="129.2" r="7.6" fill="url(#gsph)"/>
<circle cx="1160.8" cy="126.4" r="7.6" fill="url(#gsph)"/>
<circle cx="1220.2" cy="127.9" r="7.6" fill="url(#gsph)"/>
<circle cx="1279.0" cy="126.7" r="7.6" fill="url(#gsph)"/>
<circle cx="957.6" cy="124.7" r="4.5" fill="url(#wsph)"/>
<circle cx="1018.9" cy="121.4" r="4.5" fill="url(#wsph)"/>
<circle cx="1077.0" cy="126.9" r="4.5" fill="url(#wsph)"/>
<circle cx="1133.9" cy="122.1" r="4.5" fill="url(#wsph)"/>
<circle cx="1191.3" cy="128.0" r="4.5" fill="url(#wsph)"/>
<circle cx="1252.0" cy="124.4" r="4.5" fill="url(#wsph)"/>
<circle cx="925.9" cy="215.1" r="7.6" fill="url(#gsph)"/>
<circle cx="989.5" cy="215.0" r="7.6" fill="url(#gsph)"/>
<circle cx="1045.2" cy="214.6" r="7.6" fill="url(#gsph)"/>
<circle cx="1102.3" cy="214.4" r="7.6" fill="url(#gsph)"/>
<circle cx="1159.4" cy="212.5" r="7.6" fill="url(#gsph)"/>
<circle cx="1220.7" cy="214.6" r="7.6" fill="url(#gsph)"/>
<circle cx="1278.4" cy="211.6" r="7.6" fill="url(#gsph)"/>
<circle cx="957.8" cy="209.1" r="4.5" fill="url(#wsph)"/>
<circle cx="1017.8" cy="206.0" r="4.5" fill="url(#wsph)"/>
<circle cx="1076.5" cy="210.8" r="4.5" fill="url(#wsph)"/>
<circle cx="1133.8" cy="205.3" r="4.5" fill="url(#wsph)"/>
<circle cx="1192.1" cy="211.1" r="4.5" fill="url(#wsph)"/>
<circle cx="1250.1" cy="211.7" r="4.5" fill="url(#wsph)"/>
<circle cx="926.0" cy="296.5" r="7.6" fill="url(#gsph)"/>
<circle cx="989.8" cy="296.6" r="7.6" fill="url(#gsph)"/>
<circle cx="1044.6" cy="295.6" r="7.6" fill="url(#gsph)"/>
<circle cx="1103.2" cy="295.6" r="7.6" fill="url(#gsph)"/>
<circle cx="1160.3" cy="295.7" r="7.6" fill="url(#gsph)"/>
<circle cx="1219.9" cy="293.6" r="7.6" fill="url(#gsph)"/>
<circle cx="1279.2" cy="295.9" r="7.6" fill="url(#gsph)"/>
<circle cx="957.5" cy="294.1" r="4.5" fill="url(#wsph)"/>
<circle cx="1018.6" cy="291.7" r="4.5" fill="url(#wsph)"/>
<circle cx="1076.4" cy="291.8" r="4.5" fill="url(#wsph)"/>
<circle cx="1132.2" cy="289.0" r="4.5" fill="url(#wsph)"/>
<circle cx="1191.9" cy="288.7" r="4.5" fill="url(#wsph)"/>
<circle cx="1250.9" cy="292.1" r="4.5" fill="url(#wsph)"/>
</g>
<g clip-path="url(#clipLa)">
<g filter="url(#noiseLa)">
<rect x="25.8" y="370.8" width="422.6" height="394.7" fill="#000"/>
<rect x="25.8" y="370.8" width="422.6" height="394.7" fill="#ff8810" opacity="0.22"/>
<circle cx="59.7" cy="455.3" r="15.0" fill="#ff8810" opacity="0.69"/>
<circle cx="49.7" cy="458.9" r="16.2" fill="#ff8810" opacity="0.69"/>
<circle cx="53.4" cy="461.6" r="17.5" fill="#ff8810" opacity="0.69"/>
<circle cx="109.1" cy="455.3" r="21.0" fill="#ff8810" opacity="0.69"/>
<circle cx="115.8" cy="457.2" r="19.7" fill="#ff8810" opacity="0.69"/>
<circle cx="107.5" cy="457.6" r="19.2" fill="#ff8810" opacity="0.69"/>
<circle cx="169.7" cy="455.2" r="22.0" fill="#ff8810" opacity="0.63"/>
<circle cx="174.2" cy="459.0" r="18.7" fill="#ff8810" opacity="0.63"/>
<circle cx="175.9" cy="450.1" r="22.4" fill="#ff8810" opacity="0.63"/>
<circle cx="224.4" cy="458.9" r="16.4" fill="#ff8810" opacity="0.69"/>
<circle cx="231.1" cy="448.2" r="16.8" fill="#ff8810" opacity="0.69"/>
<circle cx="227.2" cy="449.0" r="17.3" fill="#ff8810" opacity="0.69"/>
<circle cx="295.1" cy="461.1" r="22.0" fill="#ff8810" opacity="0.63"/>
<circle cx="290.4" cy="448.5" r="21.1" fill="#ff8810" opacity="0.63"/>
<circle cx="295.8" cy="462.0" r="19.2" fill="#ff8810" opacity="0.63"/>
<circle cx="346.2" cy="447.8" r="16.4" fill="#ff8810" opacity="0.54"/>
<circle cx="351.5" cy="461.0" r="16.6" fill="#ff8810" opacity="0.54"/>
<circle cx="350.5" cy="450.2" r="17.0" fill="#ff8810" opacity="0.54"/>
<circle cx="397.6" cy="456.2" r="16.4" fill="#ff8810" opacity="0.63"/>
<circle cx="410.3" cy="450.9" r="22.0" fill="#ff8810" opacity="0.63"/>
<circle cx="415.2" cy="454.2" r="22.8" fill="#ff8810" opacity="0.63"/>
<circle cx="49.9" cy="533.9" r="17.9" fill="#ff8810" opacity="0.69"/>
<circle cx="60.2" cy="533.2" r="15.6" fill="#ff8810" opacity="0.69"/>
<circle cx="64.8" cy="536.0" r="21.4" fill="#ff8810" opacity="0.69"/>
<circle cx="115.9" cy="543.0" r="18.6" fill="#ff8810" opacity="0.69"/>
<circle cx="116.6" cy="542.6" r="20.7" fill="#ff8810" opacity="0.69"/>
<circle cx="115.7" cy="539.3" r="19.3" fill="#ff8810" opacity="0.69"/>
<circle cx="170.4" cy="541.1" r="16.5" fill="#ff8810" opacity="0.63"/>
<circle cx="168.3" cy="541.7" r="16.6" fill="#ff8810" opacity="0.63"/>
<circle cx="172.2" cy="542.7" r="16.8" fill="#ff8810" opacity="0.63"/>
<circle cx="225.3" cy="544.6" r="20.3" fill="#ff8810" opacity="0.63"/>
<circle cx="219.3" cy="532.9" r="19.9" fill="#ff8810" opacity="0.63"/>
<circle cx="236.4" cy="536.4" r="18.5" fill="#ff8810" opacity="0.63"/>
<circle cx="284.2" cy="538.1" r="18.2" fill="#ff8810" opacity="0.63"/>
<circle cx="284.0" cy="538.2" r="19.3" fill="#ff8810" opacity="0.63"/>
<circle cx="279.3" cy="541.5" r="19.1" fill="#ff8810" opacity="0.63"/>
<circle cx="338.4" cy="534.1" r="18.8" fill="#ff8810" opacity="0.63"/>
<circle cx="346.9" cy="532.5" r="18.0" fill="#ff8810" opacity="0.63"/>
<circle cx="340.2" cy="546.1" r="18.8" fill="#ff8810" opacity="0.63"/>
<circle cx="411.0" cy="546.2" r="17.2" fill="#ff8810" opacity="0.63"/>
<circle cx="403.8" cy="533.3" r="17.7" fill="#ff8810" opacity="0.63"/>
<circle cx="403.2" cy="544.9" r="19.6" fill="#ff8810" opacity="0.63"/>
<circle cx="60.4" cy="629.8" r="18.2" fill="#ff8810" opacity="0.69"/>
<circle cx="50.9" cy="620.2" r="21.2" fill="#ff8810" opacity="0.69"/>
<circle cx="53.5" cy="621.3" r="18.7" fill="#ff8810" opacity="0.69"/>
<circle cx="107.2" cy="615.2" r="22.7" fill="#ff8810" opacity="0.63"/>
<circle cx="120.9" cy="633.9" r="19.2" fill="#ff8810" opacity="0.63"/>
<circle cx="122.2" cy="632.7" r="17.8" fill="#ff8810" opacity="0.63"/>
<circle cx="172.3" cy="622.5" r="17.7" fill="#ff8810" opacity="0.63"/>
<circle cx="167.1" cy="618.5" r="19.3" fill="#ff8810" opacity="0.63"/>
<circle cx="168.1" cy="632.0" r="15.8" fill="#ff8810" opacity="0.63"/>
<circle cx="236.6" cy="633.4" r="20.2" fill="#ff8810" opacity="0.63"/>
<circle cx="219.9" cy="630.4" r="17.4" fill="#ff8810" opacity="0.63"/>
<circle cx="225.3" cy="628.9" r="19.8" fill="#ff8810" opacity="0.63"/>
<circle cx="283.8" cy="622.3" r="20.8" fill="#ff8810" opacity="0.54"/>
<circle cx="286.2" cy="631.8" r="17.6" fill="#ff8810" opacity="0.54"/>
<circle cx="281.2" cy="627.4" r="20.6" fill="#ff8810" opacity="0.54"/>
<circle cx="348.5" cy="632.3" r="16.3" fill="#ff8810" opacity="0.54"/>
<circle cx="345.1" cy="633.0" r="16.6" fill="#ff8810" opacity="0.54"/>
<circle cx="338.3" cy="621.8" r="19.8" fill="#ff8810" opacity="0.54"/>
<circle cx="397.5" cy="616.7" r="16.7" fill="#ff8810" opacity="0.63"/>
<circle cx="399.8" cy="616.9" r="22.3" fill="#ff8810" opacity="0.63"/>
<circle cx="413.2" cy="617.2" r="19.1" fill="#ff8810" opacity="0.63"/>
<circle cx="60.8" cy="706.7" r="16.7" fill="#ff8810" opacity="0.69"/>
<circle cx="53.0" cy="702.4" r="15.3" fill="#ff8810" opacity="0.69"/>
<circle cx="59.2" cy="708.9" r="16.9" fill="#ff8810" opacity="0.69"/>
<circle cx="114.1" cy="709.5" r="16.9" fill="#ff8810" opacity="0.63"/>
<circle cx="117.5" cy="706.8" r="17.2" fill="#ff8810" opacity="0.63"/>
<circle cx="110.1" cy="704.6" r="18.9" fill="#ff8810" opacity="0.63"/>
<circle cx="166.3" cy="707.4" r="19.2" fill="#ff8810" opacity="0.63"/>
<circle cx="163.2" cy="705.5" r="17.5" fill="#ff8810" opacity="0.63"/>
<circle cx="177.3" cy="714.4" r="17.2" fill="#ff8810" opacity="0.63"/>
<circle cx="228.5" cy="700.9" r="19.1" fill="#ff8810" opacity="0.63"/>
<circle cx="231.8" cy="713.6" r="19.0" fill="#ff8810" opacity="0.63"/>
<circle cx="231.9" cy="711.1" r="17.6" fill="#ff8810" opacity="0.63"/>
<circle cx="279.8" cy="710.7" r="13.8" fill="#ff8810" opacity="0.54"/>
<circle cx="279.0" cy="700.0" r="18.5" fill="#ff8810" opacity="0.54"/>
<circle cx="280.4" cy="698.8" r="18.3" fill="#ff8810" opacity="0.54"/>
<circle cx="348.6" cy="715.6" r="19.3" fill="#ff8810" opacity="0.54"/>
<circle cx="347.9" cy="699.0" r="20.5" fill="#ff8810" opacity="0.54"/>
<circle cx="342.7" cy="711.3" r="16.2" fill="#ff8810" opacity="0.54"/>
<circle cx="405.2" cy="708.8" r="18.4" fill="#ff8810" opacity="0.63"/>
<circle cx="403.9" cy="702.6" r="15.1" fill="#ff8810" opacity="0.63"/>
<circle cx="409.8" cy="711.8" r="15.9" fill="#ff8810" opacity="0.63"/>
<circle cx="57.0" cy="376.4" r="15.1" fill="#ff8810" opacity="0.54"/>
<circle cx="57.7" cy="371.6" r="16.0" fill="#ff8810" opacity="0.54"/>
<circle cx="66.3" cy="376.7" r="17.3" fill="#ff8810" opacity="0.54"/>
<circle cx="108.8" cy="380.9" r="17.4" fill="#ff8810" opacity="0.54"/>
<circle cx="116.7" cy="378.3" r="15.9" fill="#ff8810" opacity="0.54"/>
<circle cx="116.2" cy="384.1" r="14.0" fill="#ff8810" opacity="0.54"/>
<circle cx="164.8" cy="381.8" r="18.2" fill="#ff8810" opacity="0.54"/>
<circle cx="171.3" cy="377.1" r="17.2" fill="#ff8810" opacity="0.54"/>
<circle cx="166.2" cy="374.4" r="14.3" fill="#ff8810" opacity="0.54"/>
<circle cx="228.8" cy="375.1" r="14.5" fill="#ff8810" opacity="0.54"/>
<circle cx="230.4" cy="385.0" r="14.8" fill="#ff8810" opacity="0.54"/>
<circle cx="230.7" cy="376.7" r="17.9" fill="#ff8810" opacity="0.54"/>
<circle cx="288.3" cy="374.4" r="14.4" fill="#ff8810" opacity="0.54"/>
<circle cx="279.7" cy="377.7" r="15.3" fill="#ff8810" opacity="0.54"/>
<circle cx="282.0" cy="375.9" r="15.0" fill="#ff8810" opacity="0.54"/>
<circle cx="348.2" cy="372.5" r="18.7" fill="#ff8810" opacity="0.54"/>
<circle cx="343.7" cy="379.5" r="15.8" fill="#ff8810" opacity="0.54"/>
<circle cx="349.2" cy="383.0" r="16.3" fill="#ff8810" opacity="0.54"/>
<circle cx="406.7" cy="381.4" r="17.9" fill="#ff8810" opacity="0.54"/>
<circle cx="405.5" cy="381.6" r="18.5" fill="#ff8810" opacity="0.54"/>
<circle cx="406.5" cy="373.8" r="14.5" fill="#ff8810" opacity="0.54"/>
</g></g>
<text font-family="Liberation Sans, sans-serif" font-size="1"  fill="#fff" transform="matrix(36.0099 0 0 39.0995 360.85 441.70)">La</text>
<g clip-path="url(#clipCr)">
<g filter="url(#noiseCr)">
<rect x="462.0" y="370.7" width="423.0" height="394.8" fill="#000"/>
<rect x="462.0" y="370.7" width="423.0" height="394.8" fill="#1ee61e" opacity="0.09"/>
<circle cx="494.3" cy="417.4" r="16.2" fill="#1ee61e" opacity="0.18"/>
<circle cx="490.0" cy="417.4" r="16.4" fill="#1ee61e" opacity="0.18"/>
<circle cx="499.3" cy="411.1" r="14.7" fill="#1ee61e" opacity="0.18"/>
<circle cx="539.7" cy="425.3" r="17.5" fill="#1ee61e" opacity="0.54"/>
<circle cx="548.6" cy="419.9" r="13.3" fill="#1ee61e" opacity="0.54"/>
<circle cx="539.3" cy="418.7" r="12.8" fill="#1ee61e" opacity="0.54"/>
<circle cx="607.3" cy="415.2" r="14.7" fill="#1ee61e" opacity="0.69"/>
<circle cx="608.0" cy="417.7" r="13.1" fill="#1ee61e" opacity="0.69"/>
<circle cx="609.8" cy="415.4" r="12.1" fill="#1ee61e" opacity="0.69"/>
<circle cx="672.1" cy="416.2" r="14.0" fill="#1ee61e" opacity="0.33"/>
<circle cx="665.8" cy="412.6" r="16.9" fill="#1ee61e" opacity="0.33"/>
<circle cx="667.5" cy="424.2" r="14.9" fill="#1ee61e" opacity="0.33"/>
<circle cx="725.2" cy="423.6" r="12.9" fill="#1ee61e" opacity="0.16"/>
<circle cx="734.9" cy="417.1" r="11.1" fill="#1ee61e" opacity="0.16"/>
<circle cx="730.5" cy="421.9" r="12.0" fill="#1ee61e" opacity="0.16"/>
<circle cx="789.3" cy="410.5" r="14.5" fill="#1ee61e" opacity="0.13"/>
<circle cx="779.2" cy="409.6" r="17.5" fill="#1ee61e" opacity="0.13"/>
<circle cx="780.4" cy="417.2" r="15.6" fill="#1ee61e" opacity="0.13"/>
<circle cx="844.6" cy="413.0" r="13.1" fill="#1ee61e" opacity="0.18"/>
<circle cx="839.0" cy="414.9" r="15.6" fill="#1ee61e" opacity="0.18"/>
<circle cx="846.7" cy="415.4" r="15.2" fill="#1ee61e" opacity="0.18"/>
<circle cx="496.0" cy="491.6" r="18.1" fill="#1ee61e" opacity="0.33"/>
<circle cx="489.5" cy="494.0" r="17.0" fill="#1ee61e" opacity="0.33"/>
<circle cx="491.3" cy="494.5" r="13.2" fill="#1ee61e" opacity="0.33"/>
<circle cx="547.7" cy="496.6" r="13.5" fill="#1ee61e" opacity="0.47"/>
<circle cx="552.5" cy="498.1" r="14.1" fill="#1ee61e" opacity="0.47"/>
<circle cx="551.2" cy="494.1" r="12.1" fill="#1ee61e" opacity="0.47"/>
<circle cx="606.5" cy="502.5" r="15.9" fill="#1ee61e" opacity="0.33"/>
<circle cx="606.6" cy="505.3" r="15.6" fill="#1ee61e" opacity="0.33"/>
<circle cx="612.0" cy="498.2" r="11.9" fill="#1ee61e" opacity="0.33"/>
<circle cx="667.9" cy="496.6" r="15.3" fill="#1ee61e" opacity="0.21"/>
<circle cx="666.4" cy="497.1" r="12.2" fill="#1ee61e" opacity="0.21"/>
<circle cx="668.1" cy="494.1" r="12.5" fill="#1ee61e" opacity="0.21"/>
<circle cx="724.1" cy="505.4" r="13.3" fill="#1ee61e" opacity="0.18"/>
<circle cx="720.3" cy="496.1" r="14.6" fill="#1ee61e" opacity="0.18"/>
<circle cx="720.9" cy="494.8" r="14.2" fill="#1ee61e" opacity="0.18"/>
<circle cx="792.6" cy="503.1" r="14.9" fill="#1ee61e" opacity="0.16"/>
<circle cx="789.9" cy="497.7" r="12.4" fill="#1ee61e" opacity="0.16"/>
<circle cx="781.0" cy="490.0" r="16.1" fill="#1ee61e" opacity="0.16"/>
<circle cx="846.5" cy="499.6" r="14.2" fill="#1ee61e" opacity="0.18"/>
<circle cx="842.5" cy="506.2" r="11.2" fill="#1ee61e" opacity="0.18"/>
<circle cx="845.4" cy="502.9" r="14.9" fill="#1ee61e" opacity="0.18"/>
<circle cx="502.1" cy="582.6" r="16.3" fill="#1ee61e" opacity="0.13"/>
<circle cx="501.9" cy="590.3" r="14.9" fill="#1ee61e" opacity="0.13"/>
<circle cx="500.3" cy="590.2" r="15.7" fill="#1ee61e" opacity="0.13"/>
<circle cx="550.0" cy="577.6" r="15.4" fill="#1ee61e" opacity="0.30"/>
<circle cx="555.5" cy="588.9" r="15.9" fill="#1ee61e" opacity="0.30"/>
<circle cx="546.9" cy="586.9" r="15.2" fill="#1ee61e" opacity="0.30"/>
<circle cx="612.0" cy="579.3" r="13.8" fill="#1ee61e" opacity="0.16"/>
<circle cx="608.5" cy="581.9" r="14.2" fill="#1ee61e" opacity="0.16"/>
<circle cx="608.7" cy="586.8" r="15.2" fill="#1ee61e" opacity="0.16"/>
<circle cx="668.4" cy="578.0" r="12.3" fill="#1ee61e" opacity="0.33"/>
<circle cx="671.5" cy="584.2" r="13.6" fill="#1ee61e" opacity="0.33"/>
<circle cx="671.3" cy="579.7" r="14.7" fill="#1ee61e" opacity="0.33"/>
<circle cx="731.9" cy="589.4" r="14.8" fill="#1ee61e" opacity="0.18"/>
<circle cx="727.0" cy="581.0" r="13.5" fill="#1ee61e" opacity="0.18"/>
<circle cx="725.7" cy="588.7" r="17.2" fill="#1ee61e" opacity="0.18"/>
<circle cx="783.4" cy="585.1" r="12.8" fill="#1ee61e" opacity="0.13"/>
<circle cx="784.0" cy="584.6" r="14.5" fill="#1ee61e" opacity="0.13"/>
<circle cx="787.8" cy="583.3" r="15.5" fill="#1ee61e" opacity="0.13"/>
<circle cx="839.9" cy="588.6" r="11.2" fill="#1ee61e" opacity="0.21"/>
<circle cx="848.6" cy="584.7" r="12.4" fill="#1ee61e" opacity="0.21"/>
<circle cx="849.7" cy="577.7" r="11.6" fill="#1ee61e" opacity="0.21"/>
<circle cx="490.9" cy="656.7" r="13.0" fill="#1ee61e" opacity="0.16"/>
<circle cx="496.7" cy="661.3" r="16.1" fill="#1ee61e" opacity="0.16"/>
<circle cx="497.1" cy="666.7" r="17.9" fill="#1ee61e" opacity="0.16"/>
<circle cx="544.3" cy="656.0" r="14.3" fill="#1ee61e" opacity="0.26"/>
<circle cx="551.7" cy="658.3" r="13.3" fill="#1ee61e" opacity="0.26"/>
<circle cx="546.6" cy="665.5" r="14.5" fill="#1ee61e" opacity="0.26"/>
<circle cx="613.5" cy="670.6" r="12.2" fill="#1ee61e" opacity="0.26"/>
<circle cx="615.4" cy="668.1" r="12.4" fill="#1ee61e" opacity="0.26"/>
<circle cx="608.8" cy="666.7" r="16.2" fill="#1ee61e" opacity="0.26"/>
<circle cx="671.0" cy="671.0" r="15.4" fill="#1ee61e" opacity="0.23"/>
<circle cx="668.8" cy="659.8" r="16.8" fill="#1ee61e" opacity="0.23"/>
<circle cx="671.3" cy="666.4" r="16.8" fill="#1ee61e" opacity="0.23"/>
<circle cx="733.2" cy="666.2" r="17.5" fill="#1ee61e" opacity="0.18"/>
<circle cx="723.1" cy="671.9" r="17.8" fill="#1ee61e" opacity="0.18"/>
<circle cx="723.5" cy="659.2" r="15.6" fill="#1ee61e" opacity="0.18"/>
<circle cx="780.6" cy="669.4" r="12.3" fill="#1ee61e" opacity="0.13"/>
<circle cx="791.4" cy="660.5" r="13.6" fill="#1ee61e" opacity="0.13"/>
<circle cx="791.2" cy="660.1" r="12.7" fill="#1ee61e" opacity="0.13"/>
<circle cx="846.9" cy="671.6" r="15.4" fill="#1ee61e" opacity="0.16"/>
<circle cx="850.8" cy="658.7" r="14.0" fill="#1ee61e" opacity="0.16"/>
<circle cx="844.5" cy="661.8" r="16.7" fill="#1ee61e" opacity="0.16"/>
<circle cx="521.6" cy="750.3" r="13.0" fill="#1ee61e" opacity="0.26"/>
<circle cx="520.7" cy="747.9" r="11.1" fill="#1ee61e" opacity="0.26"/>
<circle cx="523.9" cy="754.5" r="10.4" fill="#1ee61e" opacity="0.26"/>
<circle cx="576.9" cy="755.2" r="11.7" fill="#1ee61e" opacity="0.26"/>
<circle cx="573.8" cy="746.7" r="11.7" fill="#1ee61e" opacity="0.26"/>
<circle cx="573.0" cy="751.2" r="9.7" fill="#1ee61e" opacity="0.26"/>
<circle cx="639.3" cy="750.2" r="11.2" fill="#1ee61e" opacity="0.26"/>
<circle cx="637.4" cy="750.7" r="11.6" fill="#1ee61e" opacity="0.26"/>
<circle cx="636.1" cy="745.1" r="11.8" fill="#1ee61e" opacity="0.26"/>
<circle cx="691.0" cy="755.1" r="13.3" fill="#1ee61e" opacity="0.26"/>
<circle cx="689.4" cy="749.7" r="10.1" fill="#1ee61e" opacity="0.26"/>
<circle cx="691.3" cy="753.5" r="13.2" fill="#1ee61e" opacity="0.26"/>
<circle cx="751.7" cy="748.0" r="10.4" fill="#1ee61e" opacity="0.26"/>
<circle cx="753.3" cy="754.8" r="10.1" fill="#1ee61e" opacity="0.26"/>
<circle cx="755.1" cy="744.7" r="10.4" fill="#1ee61e" opacity="0.26"/>
<circle cx="808.9" cy="752.1" r="10.9" fill="#1ee61e" opacity="0.26"/>
<circle cx="810.4" cy="751.3" r="10.0" fill="#1ee61e" opacity="0.26"/>
<circle cx="814.6" cy="745.8" r="11.6" fill="#1ee61e" opacity="0.26"/>
</g></g>
<text font-family="Liberation Sans, sans-serif" font-size="1"  fill="#fff" transform="matrix(37.2548 0 0 36.4832 806.91 441.80)">Cr</text>
<g clip-path="url(#clipMn)">
<g filter="url(#noiseMn)">
<rect x="895.0" y="371.0" width="422.6" height="395.0" fill="#000"/>
<rect x="895.0" y="371.0" width="422.6" height="395.0" fill="#2828ff" opacity="0.11"/>
<circle cx="920.7" cy="421.5" r="17.8" fill="#2828ff" opacity="0.33"/>
<circle cx="926.7" cy="411.0" r="13.9" fill="#2828ff" opacity="0.33"/>
<circle cx="922.2" cy="421.2" r="15.2" fill="#2828ff" opacity="0.33"/>
<circle cx="985.0" cy="413.7" r="19.1" fill="#2828ff" opacity="0.23"/>
<circle cx="971.1" cy="420.2" r="18.4" fill="#2828ff" opacity="0.23"/>
<circle cx="972.5" cy="418.5" r="16.6" fill="#2828ff" opacity="0.23"/>
<circle cx="1047.5" cy="416.9" r="14.3" fill="#2828ff" opacity="0.26"/>
<circle cx="1035.6" cy="421.4" r="15.2" fill="#2828ff" opacity="0.26"/>
<circle cx="1049.2" cy="409.5" r="17.0" fill="#2828ff" opacity="0.26"/>
<circle cx="1097.6" cy="411.7" r="15.0" fill="#2828ff" opacity="0.42"/>
<circle cx="1097.3" cy="423.8" r="13.2" fill="#2828ff" opacity="0.42"/>
<circle cx="1102.9" cy="422.6" r="12.5" fill="#2828ff" opacity="0.42"/>
<circle cx="1157.2" cy="414.4" r="16.8" fill="#2828ff" opacity="0.30"/>
<circle cx="1154.7" cy="419.4" r="15.6" fill="#2828ff" opacity="0.30"/>
<circle cx="1160.0" cy="412.4" r="16.1" fill="#2828ff" opacity="0.30"/>
<circle cx="1225.5" cy="416.4" r="13.6" fill="#2828ff" opacity="0.18"/>
<circle cx="1212.7" cy="418.9" r="13.9" fill="#2828ff" opacity="0.18"/>
<circle cx="1219.2" cy="412.0" r="15.4" fill="#2828ff" opacity="0.18"/>
<circle cx="1283.5" cy="420.8" r="11.6" fill="#2828ff" opacity="0.18"/>
<circle cx="1277.8" cy="417.7" r="13.5" fill="#2828ff" opacity="0.18"/>
<circle cx="1280.0" cy="421.4" r="14.4" fill="#2828ff" opacity="0.18"/>
<circle cx="918.7" cy="489.3" r="13.0" fill="#2828ff" opacity="0.47"/>
<circle cx="928.3" cy="495.3" r="16.0" fill="#2828ff" opacity="0.47"/>
<circle cx="929.4" cy="499.1" r="12.2" fill="#2828ff" opacity="0.47"/>
<circle cx="985.0" cy="496.8" r="15.5" fill="#2828ff" opacity="0.21"/>
<circle cx="973.1" cy="487.9" r="16.8" fill="#2828ff" opacity="0.21"/>
<circle cx="975.7" cy="494.9" r="14.8" fill="#2828ff" opacity="0.21"/>
<circle cx="1038.5" cy="493.5" r="15.8" fill="#2828ff" opacity="0.26"/>
<circle cx="1039.5" cy="495.4" r="15.6" fill="#2828ff" opacity="0.26"/>
<circle cx="1045.8" cy="499.0" r="14.4" fill="#2828ff" opacity="0.26"/>
<circle cx="1090.5" cy="498.3" r="15.2" fill="#2828ff" opacity="0.18"/>
<circle cx="1096.2" cy="500.4" r="13.9" fill="#2828ff" opacity="0.18"/>
<circle cx="1098.4" cy="500.9" r="15.1" fill="#2828ff" opacity="0.18"/>
<circle cx="1163.6" cy="492.3" r="15.9" fill="#2828ff" opacity="0.21"/>
<circle cx="1160.9" cy="495.8" r="16.9" fill="#2828ff" opacity="0.21"/>
<circle cx="1154.5" cy="496.7" r="17.9" fill="#2828ff" opacity="0.21"/>
<circle cx="1219.1" cy="496.3" r="14.9" fill="#2828ff" opacity="0.18"/>
<circle cx="1212.0" cy="492.4" r="17.6" fill="#2828ff" opacity="0.18"/>
<circle cx="1223.8" cy="495.3" r="16.4" fill="#2828ff" opacity="0.18"/>
<circle cx="1277.8" cy="488.1" r="15.1" fill="#2828ff" opacity="0.23"/>
<circle cx="1280.8" cy="496.7" r="17.9" fill="#2828ff" opacity="0.23"/>
<circle cx="1268.9" cy="501.1" r="17.1" fill="#2828ff" opacity="0.23"/>
<circle cx="917.8" cy="581.5" r="18.0" fill="#2828ff" opacity="0.13"/>
<circle cx="926.6" cy="578.0" r="13.6" fill="#2828ff" opacity="0.13"/>
<circle cx="922.7" cy="574.3" r="16.2" fill="#2828ff" opacity="0.13"/>
<circle cx="981.8" cy="585.4" r="14.9" fill="#2828ff" opacity="0.23"/>
<circle cx="969.8" cy="582.1" r="14.5" fill="#2828ff" opacity="0.23"/>
<circle cx="980.9" cy="583.3" r="12.9" fill="#2828ff" opacity="0.23"/>
<circle cx="1038.6" cy="578.7" r="13.4" fill="#2828ff" opacity="0.21"/>
<circle cx="1040.8" cy="575.1" r="12.8" fill="#2828ff" opacity="0.21"/>
<circle cx="1037.4" cy="580.7" r="13.7" fill="#2828ff" opacity="0.21"/>
<circle cx="1103.5" cy="582.4" r="12.6" fill="#2828ff" opacity="0.18"/>
<circle cx="1093.9" cy="577.6" r="14.5" fill="#2828ff" opacity="0.18"/>
<circle cx="1095.3" cy="578.8" r="15.6" fill="#2828ff" opacity="0.18"/>
<circle cx="1158.1" cy="576.7" r="15.7" fill="#2828ff" opacity="0.26"/>
<circle cx="1162.8" cy="585.5" r="13.7" fill="#2828ff" opacity="0.26"/>
<circle cx="1159.2" cy="574.7" r="15.2" fill="#2828ff" opacity="0.26"/>
<circle cx="1222.8" cy="582.3" r="16.2" fill="#2828ff" opacity="0.16"/>
<circle cx="1216.1" cy="575.1" r="13.4" fill="#2828ff" opacity="0.16"/>
<circle cx="1214.7" cy="571.7" r="12.8" fill="#2828ff" opacity="0.16"/>
<circle cx="1274.0" cy="573.5" r="18.8" fill="#2828ff" opacity="0.18"/>
<circle cx="1269.2" cy="576.2" r="17.9" fill="#2828ff" opacity="0.18"/>
<circle cx="1273.1" cy="586.1" r="17.8" fill="#2828ff" opacity="0.18"/>
<circle cx="923.5" cy="657.8" r="14.3" fill="#2828ff" opacity="0.33"/>
<circle cx="928.3" cy="669.6" r="17.4" fill="#2828ff" opacity="0.33"/>
<circle cx="927.6" cy="668.1" r="15.0" fill="#2828ff" opacity="0.33"/>
<circle cx="975.9" cy="659.9" r="13.9" fill="#2828ff" opacity="0.26"/>
<circle cx="975.4" cy="669.9" r="14.6" fill="#2828ff" opacity="0.26"/>
<circle cx="974.0" cy="656.2" r="16.6" fill="#2828ff" opacity="0.26"/>
<circle cx="1037.1" cy="659.2" r="14.2" fill="#2828ff" opacity="0.18"/>
<circle cx="1044.0" cy="669.2" r="16.5" fill="#2828ff" opacity="0.18"/>
<circle cx="1034.0" cy="658.4" r="14.5" fill="#2828ff" opacity="0.18"/>
<circle cx="1101.4" cy="662.1" r="14.2" fill="#2828ff" opacity="0.30"/>
<circle cx="1095.3" cy="666.9" r="15.8" fill="#2828ff" opacity="0.30"/>
<circle cx="1105.6" cy="663.6" r="14.1" fill="#2828ff" opacity="0.30"/>
<circle cx="1163.8" cy="656.2" r="15.8" fill="#2828ff" opacity="0.21"/>
<circle cx="1159.4" cy="666.1" r="17.5" fill="#2828ff" opacity="0.21"/>
<circle cx="1155.5" cy="667.7" r="18.8" fill="#2828ff" opacity="0.21"/>
<circle cx="1218.1" cy="669.0" r="15.0" fill="#2828ff" opacity="0.23"/>
<circle cx="1226.1" cy="657.3" r="12.7" fill="#2828ff" opacity="0.23"/>
<circle cx="1219.0" cy="657.6" r="13.9" fill="#2828ff" opacity="0.23"/>
<circle cx="1268.2" cy="657.5" r="15.6" fill="#2828ff" opacity="0.18"/>
<circle cx="1270.7" cy="657.8" r="14.4" fill="#2828ff" opacity="0.18"/>
<circle cx="1270.7" cy="661.4" r="16.5" fill="#2828ff" opacity="0.18"/>
<circle cx="938.7" cy="752.4" r="11.7" fill="#2828ff" opacity="0.26"/>
<circle cx="948.7" cy="754.3" r="10.7" fill="#2828ff" opacity="0.26"/>
<circle cx="945.3" cy="756.5" r="13.4" fill="#2828ff" opacity="0.26"/>
<circle cx="1001.0" cy="747.6" r="11.1" fill="#2828ff" opacity="0.26"/>
<circle cx="997.8" cy="750.1" r="12.6" fill="#2828ff" opacity="0.26"/>
<circle cx="997.9" cy="757.4" r="9.6" fill="#2828ff" opacity="0.26"/>
<circle cx="1063.4" cy="747.7" r="11.7" fill="#2828ff" opacity="0.26"/>
<circle cx="1056.1" cy="750.7" r="12.0" fill="#2828ff" opacity="0.26"/>
<circle cx="1065.1" cy="746.9" r="11.2" fill="#2828ff" opacity="0.26"/>
<circle cx="1113.6" cy="754.7" r="10.2" fill="#2828ff" opacity="0.26"/>
<circle cx="1114.6" cy="755.5" r="9.8" fill="#2828ff" opacity="0.26"/>
<circle cx="1122.3" cy="749.4" r="13.6" fill="#2828ff" opacity="0.26"/>
<circle cx="1174.6" cy="747.5" r="11.5" fill="#2828ff" opacity="0.26"/>
<circle cx="1176.9" cy="753.6" r="10.8" fill="#2828ff" opacity="0.26"/>
<circle cx="1177.1" cy="746.6" r="10.0" fill="#2828ff" opacity="0.26"/>
<circle cx="1232.4" cy="751.6" r="13.1" fill="#2828ff" opacity="0.26"/>
<circle cx="1238.4" cy="750.0" r="11.4" fill="#2828ff" opacity="0.26"/>
<circle cx="1241.0" cy="756.2" r="10.0" fill="#2828ff" opacity="0.26"/>
<circle cx="1297.6" cy="749.7" r="13.3" fill="#2828ff" opacity="0.26"/>
<circle cx="1298.5" cy="753.0" r="12.3" fill="#2828ff" opacity="0.26"/>
<circle cx="1298.9" cy="747.2" r="10.9" fill="#2828ff" opacity="0.26"/>
</g></g>
<text font-family="Liberation Sans, sans-serif" font-size="1"  fill="#fff" transform="matrix(37.8365 0 0 37.9367 1228.40 443.70)">Mn</text>
<g clip-path="url(#clipFe)">
<g filter="url(#noiseFe)">
<rect x="25.8" y="734.4" width="422.6" height="394.6" fill="#000"/>
<rect x="25.8" y="734.4" width="422.6" height="394.6" fill="#e6e61e" opacity="0.09"/>
<circle cx="52.0" cy="778.0" r="13.7" fill="#e6e61e" opacity="0.54"/>
<circle cx="58.1" cy="771.8" r="12.6" fill="#e6e61e" opacity="0.54"/>
<circle cx="56.9" cy="773.0" r="13.9" fill="#e6e61e" opacity="0.54"/>
<circle cx="109.1" cy="773.5" r="14.7" fill="#e6e61e" opacity="0.21"/>
<circle cx="108.2" cy="767.5" r="14.9" fill="#e6e61e" opacity="0.21"/>
<circle cx="111.3" cy="775.4" r="14.2" fill="#e6e61e" opacity="0.21"/>
<circle cx="170.1" cy="775.4" r="14.5" fill="#e6e61e" opacity="0.23"/>
<circle cx="169.4" cy="769.0" r="13.6" fill="#e6e61e" opacity="0.23"/>
<circle cx="174.8" cy="775.7" r="13.5" fill="#e6e61e" opacity="0.23"/>
<circle cx="225.5" cy="777.5" r="10.9" fill="#e6e61e" opacity="0.26"/>
<circle cx="223.0" cy="769.0" r="10.3" fill="#e6e61e" opacity="0.26"/>
<circle cx="224.9" cy="774.6" r="13.6" fill="#e6e61e" opacity="0.26"/>
<circle cx="285.0" cy="777.8" r="12.7" fill="#e6e61e" opacity="0.16"/>
<circle cx="284.4" cy="769.7" r="13.7" fill="#e6e61e" opacity="0.16"/>
<circle cx="289.8" cy="778.4" r="11.4" fill="#e6e61e" opacity="0.16"/>
<circle cx="351.9" cy="772.4" r="15.5" fill="#e6e61e" opacity="0.21"/>
<circle cx="340.5" cy="775.6" r="11.1" fill="#e6e61e" opacity="0.21"/>
<circle cx="350.2" cy="779.1" r="15.5" fill="#e6e61e" opacity="0.21"/>
<circle cx="415.4" cy="780.0" r="12.5" fill="#e6e61e" opacity="0.21"/>
<circle cx="415.2" cy="775.2" r="11.8" fill="#e6e61e" opacity="0.21"/>
<circle cx="403.8" cy="776.4" r="11.8" fill="#e6e61e" opacity="0.21"/>
<circle cx="53.0" cy="862.1" r="10.9" fill="#e6e61e" opacity="0.42"/>
<circle cx="58.3" cy="865.5" r="11.3" fill="#e6e61e" opacity="0.42"/>
<circle cx="56.8" cy="866.6" r="12.1" fill="#e6e61e" opacity="0.42"/>
<circle cx="116.7" cy="864.1" r="13.5" fill="#e6e61e" opacity="0.54"/>
<circle cx="114.0" cy="866.0" r="14.5" fill="#e6e61e" opacity="0.54"/>
<circle cx="107.9" cy="858.8" r="13.4" fill="#e6e61e" opacity="0.54"/>
<circle cx="175.2" cy="855.2" r="13.8" fill="#e6e61e" opacity="0.47"/>
<circle cx="169.0" cy="861.0" r="14.7" fill="#e6e61e" opacity="0.47"/>
<circle cx="167.9" cy="866.0" r="11.3" fill="#e6e61e" opacity="0.47"/>
<circle cx="228.0" cy="859.8" r="12.1" fill="#e6e61e" opacity="0.37"/>
<circle cx="229.9" cy="854.2" r="11.8" fill="#e6e61e" opacity="0.37"/>
<circle cx="230.7" cy="855.9" r="13.9" fill="#e6e61e" opacity="0.37"/>
<circle cx="286.2" cy="859.8" r="10.4" fill="#e6e61e" opacity="0.37"/>
<circle cx="289.2" cy="860.5" r="13.0" fill="#e6e61e" opacity="0.37"/>
<circle cx="287.3" cy="861.4" r="12.3" fill="#e6e61e" opacity="0.37"/>
<circle cx="349.5" cy="865.8" r="12.0" fill="#e6e61e" opacity="0.33"/>
<circle cx="348.4" cy="863.6" r="12.4" fill="#e6e61e" opacity="0.33"/>
<circle cx="342.8" cy="859.5" r="11.3" fill="#e6e61e" opacity="0.33"/>
<circle cx="405.8" cy="860.9" r="14.0" fill="#e6e61e" opacity="0.30"/>
<circle cx="406.9" cy="862.5" r="11.6" fill="#e6e61e" opacity="0.30"/>
<circle cx="404.5" cy="856.8" r="11.4" fill="#e6e61e" opacity="0.30"/>
<circle cx="50.1" cy="945.9" r="11.3" fill="#e6e61e" opacity="0.33"/>
<circle cx="55.9" cy="945.7" r="14.7" fill="#e6e61e" opacity="0.33"/>
<circle cx="52.0" cy="950.8" r="11.9" fill="#e6e61e" opacity="0.33"/>
<circle cx="117.4" cy="943.0" r="11.3" fill="#e6e61e" opacity="0.23"/>
<circle cx="109.9" cy="949.4" r="10.2" fill="#e6e61e" opacity="0.23"/>
<circle cx="116.7" cy="944.3" r="12.6" fill="#e6e61e" opacity="0.23"/>
<circle cx="171.3" cy="938.8" r="16.5" fill="#e6e61e" opacity="0.33"/>
<circle cx="174.8" cy="939.0" r="11.8" fill="#e6e61e" opacity="0.33"/>
<circle cx="170.7" cy="938.4" r="15.3" fill="#e6e61e" opacity="0.33"/>
<circle cx="230.3" cy="949.9" r="13.7" fill="#e6e61e" opacity="0.37"/>
<circle cx="228.0" cy="943.6" r="11.6" fill="#e6e61e" opacity="0.37"/>
<circle cx="221.7" cy="950.4" r="11.9" fill="#e6e61e" opacity="0.37"/>
<circle cx="288.1" cy="948.9" r="13.1" fill="#e6e61e" opacity="0.42"/>
<circle cx="285.9" cy="946.2" r="14.5" fill="#e6e61e" opacity="0.42"/>
<circle cx="293.2" cy="941.8" r="15.1" fill="#e6e61e" opacity="0.42"/>
<circle cx="346.5" cy="950.1" r="13.5" fill="#e6e61e" opacity="0.23"/>
<circle cx="342.6" cy="945.7" r="13.0" fill="#e6e61e" opacity="0.23"/>
<circle cx="350.9" cy="947.3" r="10.9" fill="#e6e61e" opacity="0.23"/>
<circle cx="406.7" cy="947.2" r="13.0" fill="#e6e61e" opacity="0.26"/>
<circle cx="406.6" cy="940.2" r="11.8" fill="#e6e61e" opacity="0.26"/>
<circle cx="409.7" cy="942.6" r="11.2" fill="#e6e61e" opacity="0.26"/>
<circle cx="57.8" cy="1029.0" r="13.9" fill="#e6e61e" opacity="0.54"/>
<circle cx="58.8" cy="1033.1" r="16.6" fill="#e6e61e" opacity="0.54"/>
<circle cx="59.5" cy="1026.3" r="12.1" fill="#e6e61e" opacity="0.54"/>
<circle cx="107.9" cy="1020.8" r="12.3" fill="#e6e61e" opacity="0.33"/>
<circle cx="119.2" cy="1029.5" r="13.7" fill="#e6e61e" opacity="0.33"/>
<circle cx="115.4" cy="1023.8" r="11.3" fill="#e6e61e" opacity="0.33"/>
<circle cx="170.6" cy="1025.8" r="11.5" fill="#e6e61e" opacity="0.37"/>
<circle cx="164.9" cy="1024.9" r="11.7" fill="#e6e61e" opacity="0.37"/>
<circle cx="172.2" cy="1022.8" r="13.8" fill="#e6e61e" opacity="0.37"/>
<circle cx="224.2" cy="1025.5" r="15.3" fill="#e6e61e" opacity="0.37"/>
<circle cx="225.1" cy="1024.7" r="13.1" fill="#e6e61e" opacity="0.37"/>
<circle cx="228.6" cy="1031.1" r="12.2" fill="#e6e61e" opacity="0.37"/>
<circle cx="290.8" cy="1030.4" r="12.2" fill="#e6e61e" opacity="0.42"/>
<circle cx="292.4" cy="1031.1" r="14.6" fill="#e6e61e" opacity="0.42"/>
<circle cx="284.7" cy="1030.7" r="16.0" fill="#e6e61e" opacity="0.42"/>
<circle cx="339.6" cy="1031.7" r="12.9" fill="#e6e61e" opacity="0.33"/>
<circle cx="349.7" cy="1029.8" r="12.0" fill="#e6e61e" opacity="0.33"/>
<circle cx="341.8" cy="1029.1" r="14.0" fill="#e6e61e" opacity="0.33"/>
<circle cx="411.4" cy="1031.2" r="10.4" fill="#e6e61e" opacity="0.47"/>
<circle cx="412.4" cy="1024.7" r="11.1" fill="#e6e61e" opacity="0.47"/>
<circle cx="403.4" cy="1030.4" r="10.7" fill="#e6e61e" opacity="0.47"/>
<circle cx="86.3" cy="1106.4" r="12.8" fill="#e6e61e" opacity="0.33"/>
<circle cx="83.9" cy="1112.8" r="11.9" fill="#e6e61e" opacity="0.33"/>
<circle cx="84.3" cy="1113.5" r="10.2" fill="#e6e61e" opacity="0.33"/>
<circle cx="140.3" cy="1110.4" r="11.9" fill="#e6e61e" opacity="0.33"/>
<circle cx="137.1" cy="1116.5" r="11.3" fill="#e6e61e" opacity="0.33"/>
<circle cx="141.0" cy="1107.3" r="10.9" fill="#e6e61e" opacity="0.33"/>
<circle cx="196.9" cy="1113.3" r="12.9" fill="#e6e61e" opacity="0.33"/>
<circle cx="191.7" cy="1115.4" r="12.8" fill="#e6e61e" opacity="0.33"/>
<circle cx="191.0" cy="1108.0" r="11.9" fill="#e6e61e" opacity="0.33"/>
<circle cx="257.3" cy="1113.3" r="11.3" fill="#e6e61e" opacity="0.33"/>
<circle cx="252.1" cy="1115.5" r="11.7" fill="#e6e61e" opacity="0.33"/>
<circle cx="252.4" cy="1113.0" r="13.3" fill="#e6e61e" opacity="0.33"/>
<circle cx="316.4" cy="1115.8" r="10.7" fill="#e6e61e" opacity="0.33"/>
<circle cx="314.1" cy="1115.6" r="12.5" fill="#e6e61e" opacity="0.33"/>
<circle cx="318.1" cy="1116.7" r="10.1" fill="#e6e61e" opacity="0.33"/>
<circle cx="371.1" cy="1110.4" r="10.4" fill="#e6e61e" opacity="0.33"/>
<circle cx="371.0" cy="1117.4" r="12.7" fill="#e6e61e" opacity="0.33"/>
<circle cx="366.5" cy="1109.2" r="11.1" fill="#e6e61e" opacity="0.33"/>
</g></g>
<text font-family="Liberation Sans, sans-serif" font-size="1"  fill="#fff" transform="matrix(37.0005 0 0 37.2099 358.96 807.30)">Fe</text>
<g clip-path="url(#clipCo)">
<g filter="url(#noiseCo)">
<rect x="462.7" y="734.7" width="420.6" height="392.3" fill="#000"/>
<rect x="462.7" y="734.7" width="420.6" height="392.3" fill="#1ee6e6" opacity="0.13"/>
<circle cx="489.3" cy="776.5" r="13.2" fill="#1ee6e6" opacity="0.42"/>
<circle cx="491.1" cy="782.8" r="12.0" fill="#1ee6e6" opacity="0.42"/>
<circle cx="491.4" cy="772.7" r="13.2" fill="#1ee6e6" opacity="0.42"/>
<circle cx="549.5" cy="779.3" r="13.1" fill="#1ee6e6" opacity="0.69"/>
<circle cx="546.3" cy="775.5" r="12.9" fill="#1ee6e6" opacity="0.69"/>
<circle cx="554.3" cy="777.1" r="11.9" fill="#1ee6e6" opacity="0.69"/>
<circle cx="604.2" cy="775.1" r="14.4" fill="#1ee6e6" opacity="0.37"/>
<circle cx="607.9" cy="779.4" r="14.2" fill="#1ee6e6" opacity="0.37"/>
<circle cx="608.8" cy="778.0" r="12.6" fill="#1ee6e6" opacity="0.37"/>
<circle cx="670.5" cy="776.6" r="10.5" fill="#1ee6e6" opacity="0.42"/>
<circle cx="661.4" cy="776.3" r="10.2" fill="#1ee6e6" opacity="0.42"/>
<circle cx="664.3" cy="777.1" r="12.6" fill="#1ee6e6" opacity="0.42"/>
<circle cx="721.5" cy="783.6" r="14.4" fill="#1ee6e6" opacity="0.47"/>
<circle cx="729.9" cy="781.8" r="15.6" fill="#1ee6e6" opacity="0.47"/>
<circle cx="720.0" cy="775.9" r="15.7" fill="#1ee6e6" opacity="0.47"/>
<circle cx="773.6" cy="773.9" r="16.1" fill="#1ee6e6" opacity="0.33"/>
<circle cx="784.9" cy="783.7" r="15.2" fill="#1ee6e6" opacity="0.33"/>
<circle cx="782.1" cy="776.1" r="11.7" fill="#1ee6e6" opacity="0.33"/>
<circle cx="842.7" cy="771.8" r="12.6" fill="#1ee6e6" opacity="0.30"/>
<circle cx="841.8" cy="774.8" r="11.9" fill="#1ee6e6" opacity="0.30"/>
<circle cx="838.3" cy="778.5" r="12.4" fill="#1ee6e6" opacity="0.30"/>
<circle cx="493.7" cy="864.8" r="10.6" fill="#1ee6e6" opacity="0.42"/>
<circle cx="492.0" cy="865.0" r="10.8" fill="#1ee6e6" opacity="0.42"/>
<circle cx="488.5" cy="865.0" r="12.9" fill="#1ee6e6" opacity="0.42"/>
<circle cx="546.6" cy="865.5" r="14.5" fill="#1ee6e6" opacity="0.37"/>
<circle cx="543.3" cy="860.9" r="12.3" fill="#1ee6e6" opacity="0.37"/>
<circle cx="553.9" cy="860.5" r="14.0" fill="#1ee6e6" opacity="0.37"/>
<circle cx="611.7" cy="863.5" r="12.6" fill="#1ee6e6" opacity="0.33"/>
<circle cx="602.3" cy="859.6" r="12.9" fill="#1ee6e6" opacity="0.33"/>
<circle cx="608.6" cy="867.8" r="12.3" fill="#1ee6e6" opacity="0.33"/>
<circle cx="663.3" cy="860.3" r="14.8" fill="#1ee6e6" opacity="0.47"/>
<circle cx="662.7" cy="865.5" r="13.6" fill="#1ee6e6" opacity="0.47"/>
<circle cx="662.6" cy="857.8" r="13.5" fill="#1ee6e6" opacity="0.47"/>
<circle cx="721.7" cy="859.6" r="12.3" fill="#1ee6e6" opacity="0.30"/>
<circle cx="719.5" cy="859.7" r="12.4" fill="#1ee6e6" opacity="0.30"/>
<circle cx="725.0" cy="863.6" r="15.4" fill="#1ee6e6" opacity="0.30"/>
<circle cx="772.2" cy="859.2" r="15.7" fill="#1ee6e6" opacity="0.37"/>
<circle cx="775.2" cy="857.2" r="14.8" fill="#1ee6e6" opacity="0.37"/>
<circle cx="775.5" cy="858.8" r="13.6" fill="#1ee6e6" opacity="0.37"/>
<circle cx="844.6" cy="869.0" r="11.6" fill="#1ee6e6" opacity="0.33"/>
<circle cx="838.0" cy="869.1" r="15.1" fill="#1ee6e6" opacity="0.33"/>
<circle cx="844.6" cy="859.0" r="11.9" fill="#1ee6e6" opacity="0.33"/>
<circle cx="489.3" cy="947.7" r="14.8" fill="#1ee6e6" opacity="0.69"/>
<circle cx="488.3" cy="940.4" r="15.2" fill="#1ee6e6" opacity="0.69"/>
<circle cx="493.9" cy="949.6" r="14.9" fill="#1ee6e6" opacity="0.69"/>
<circle cx="552.9" cy="940.0" r="13.6" fill="#1ee6e6" opacity="0.23"/>
<circle cx="546.1" cy="949.6" r="14.0" fill="#1ee6e6" opacity="0.23"/>
<circle cx="544.0" cy="938.7" r="11.5" fill="#1ee6e6" opacity="0.23"/>
<circle cx="605.0" cy="941.3" r="13.3" fill="#1ee6e6" opacity="0.33"/>
<circle cx="609.3" cy="946.6" r="11.5" fill="#1ee6e6" opacity="0.33"/>
<circle cx="613.3" cy="941.7" r="14.6" fill="#1ee6e6" opacity="0.33"/>
<circle cx="660.4" cy="943.2" r="15.8" fill="#1ee6e6" opacity="0.21"/>
<circle cx="668.7" cy="946.1" r="12.8" fill="#1ee6e6" opacity="0.21"/>
<circle cx="666.0" cy="942.8" r="13.1" fill="#1ee6e6" opacity="0.21"/>
<circle cx="724.1" cy="939.9" r="13.0" fill="#1ee6e6" opacity="0.37"/>
<circle cx="728.3" cy="947.5" r="14.8" fill="#1ee6e6" opacity="0.37"/>
<circle cx="723.7" cy="945.8" r="12.0" fill="#1ee6e6" opacity="0.37"/>
<circle cx="780.3" cy="942.9" r="10.7" fill="#1ee6e6" opacity="0.33"/>
<circle cx="782.2" cy="949.7" r="11.3" fill="#1ee6e6" opacity="0.33"/>
<circle cx="774.8" cy="944.8" r="10.4" fill="#1ee6e6" opacity="0.33"/>
<circle cx="839.6" cy="935.8" r="15.3" fill="#1ee6e6" opacity="0.26"/>
<circle cx="846.1" cy="944.7" r="14.3" fill="#1ee6e6" opacity="0.26"/>
<circle cx="847.5" cy="943.5" r="13.8" fill="#1ee6e6" opacity="0.26"/>
<circle cx="494.4" cy="1028.5" r="14.3" fill="#1ee6e6" opacity="0.37"/>
<circle cx="485.8" cy="1027.3" r="11.7" fill="#1ee6e6" opacity="0.37"/>
<circle cx="496.1" cy="1018.9" r="12.5" fill="#1ee6e6" opacity="0.37"/>
<circle cx="543.8" cy="1031.4" r="12.1" fill="#1ee6e6" opacity="0.26"/>
<circle cx="546.5" cy="1026.7" r="14.8" fill="#1ee6e6" opacity="0.26"/>
<circle cx="544.9" cy="1026.2" r="12.4" fill="#1ee6e6" opacity="0.26"/>
<circle cx="602.0" cy="1022.9" r="11.1" fill="#1ee6e6" opacity="0.33"/>
<circle cx="607.0" cy="1028.3" r="11.6" fill="#1ee6e6" opacity="0.33"/>
<circle cx="605.3" cy="1027.1" r="14.8" fill="#1ee6e6" opacity="0.33"/>
<circle cx="671.1" cy="1021.7" r="12.7" fill="#1ee6e6" opacity="0.23"/>
<circle cx="666.9" cy="1022.5" r="13.3" fill="#1ee6e6" opacity="0.23"/>
<circle cx="665.6" cy="1026.0" r="14.4" fill="#1ee6e6" opacity="0.23"/>
<circle cx="727.1" cy="1022.5" r="10.8" fill="#1ee6e6" opacity="0.26"/>
<circle cx="720.4" cy="1023.7" r="13.7" fill="#1ee6e6" opacity="0.26"/>
<circle cx="716.7" cy="1031.8" r="12.8" fill="#1ee6e6" opacity="0.26"/>
<circle cx="777.9" cy="1029.3" r="13.3" fill="#1ee6e6" opacity="0.26"/>
<circle cx="778.4" cy="1023.6" r="10.9" fill="#1ee6e6" opacity="0.26"/>
<circle cx="776.2" cy="1027.2" r="15.3" fill="#1ee6e6" opacity="0.26"/>
<circle cx="845.4" cy="1026.2" r="13.9" fill="#1ee6e6" opacity="0.21"/>
<circle cx="839.9" cy="1024.9" r="14.6" fill="#1ee6e6" opacity="0.21"/>
<circle cx="841.0" cy="1028.6" r="12.4" fill="#1ee6e6" opacity="0.21"/>
<circle cx="517.0" cy="1113.7" r="13.5" fill="#1ee6e6" opacity="0.33"/>
<circle cx="517.8" cy="1115.5" r="10.7" fill="#1ee6e6" opacity="0.33"/>
<circle cx="515.0" cy="1108.3" r="11.0" fill="#1ee6e6" opacity="0.33"/>
<circle cx="579.0" cy="1106.1" r="13.0" fill="#1ee6e6" opacity="0.33"/>
<circle cx="575.9" cy="1111.3" r="11.5" fill="#1ee6e6" opacity="0.33"/>
<circle cx="577.4" cy="1104.7" r="13.3" fill="#1ee6e6" opacity="0.33"/>
<circle cx="630.5" cy="1107.0" r="9.6" fill="#1ee6e6" opacity="0.33"/>
<circle cx="635.3" cy="1104.7" r="12.9" fill="#1ee6e6" opacity="0.33"/>
<circle cx="629.0" cy="1115.3" r="12.0" fill="#1ee6e6" opacity="0.33"/>
<circle cx="695.4" cy="1104.9" r="11.0" fill="#1ee6e6" opacity="0.33"/>
<circle cx="695.6" cy="1104.8" r="10.8" fill="#1ee6e6" opacity="0.33"/>
<circle cx="688.4" cy="1109.8" r="12.3" fill="#1ee6e6" opacity="0.33"/>
<circle cx="747.7" cy="1108.5" r="10.9" fill="#1ee6e6" opacity="0.33"/>
<circle cx="747.6" cy="1112.1" r="13.2" fill="#1ee6e6" opacity="0.33"/>
<circle cx="749.6" cy="1107.5" r="13.5" fill="#1ee6e6" opacity="0.33"/>
<circle cx="803.1" cy="1112.2" r="12.6" fill="#1ee6e6" opacity="0.33"/>
<circle cx="805.6" cy="1107.4" r="10.9" fill="#1ee6e6" opacity="0.33"/>
<circle cx="808.0" cy="1115.2" r="13.3" fill="#1ee6e6" opacity="0.33"/>
</g></g>
<text font-family="Liberation Sans, sans-serif" font-size="1"  fill="#fff" transform="matrix(37.5354 0 0 38.6634 803.59 805.00)">Co</text>
<g clip-path="url(#clipNi)">
<g filter="url(#noiseNi)">
<rect x="893.0" y="734.4" width="424.6" height="396.6" fill="#000"/>
<rect x="893.0" y="734.4" width="424.6" height="396.6" fill="#e61ee6" opacity="0.09"/>
<circle cx="923.4" cy="770.7" r="11.7" fill="#e61ee6" opacity="0.21"/>
<circle cx="917.6" cy="778.8" r="11.8" fill="#e61ee6" opacity="0.21"/>
<circle cx="924.2" cy="777.6" r="11.8" fill="#e61ee6" opacity="0.21"/>
<circle cx="984.6" cy="771.5" r="11.3" fill="#e61ee6" opacity="0.33"/>
<circle cx="983.9" cy="775.5" r="12.1" fill="#e61ee6" opacity="0.33"/>
<circle cx="975.9" cy="775.0" r="15.7" fill="#e61ee6" opacity="0.33"/>
<circle cx="1036.5" cy="782.0" r="15.6" fill="#e61ee6" opacity="0.37"/>
<circle cx="1033.9" cy="771.9" r="15.6" fill="#e61ee6" opacity="0.37"/>
<circle cx="1042.5" cy="769.5" r="15.1" fill="#e61ee6" opacity="0.37"/>
<circle cx="1103.2" cy="780.5" r="11.6" fill="#e61ee6" opacity="0.37"/>
<circle cx="1101.2" cy="774.1" r="10.9" fill="#e61ee6" opacity="0.37"/>
<circle cx="1097.4" cy="775.5" r="12.5" fill="#e61ee6" opacity="0.37"/>
<circle cx="1166.5" cy="785.5" r="16.5" fill="#e61ee6" opacity="0.69"/>
<circle cx="1156.8" cy="773.6" r="15.7" fill="#e61ee6" opacity="0.69"/>
<circle cx="1160.3" cy="780.9" r="12.9" fill="#e61ee6" opacity="0.69"/>
<circle cx="1216.4" cy="773.2" r="13.6" fill="#e61ee6" opacity="0.42"/>
<circle cx="1219.3" cy="780.7" r="16.4" fill="#e61ee6" opacity="0.42"/>
<circle cx="1209.7" cy="778.1" r="15.5" fill="#e61ee6" opacity="0.42"/>
<circle cx="1270.6" cy="772.8" r="16.3" fill="#e61ee6" opacity="0.37"/>
<circle cx="1270.7" cy="774.0" r="13.2" fill="#e61ee6" opacity="0.37"/>
<circle cx="1278.7" cy="782.9" r="13.8" fill="#e61ee6" opacity="0.37"/>
<circle cx="921.4" cy="862.6" r="13.8" fill="#e61ee6" opacity="0.18"/>
<circle cx="917.1" cy="856.2" r="11.5" fill="#e61ee6" opacity="0.18"/>
<circle cx="925.9" cy="863.6" r="15.3" fill="#e61ee6" opacity="0.18"/>
<circle cx="985.9" cy="856.9" r="12.1" fill="#e61ee6" opacity="0.30"/>
<circle cx="977.3" cy="856.0" r="12.9" fill="#e61ee6" opacity="0.30"/>
<circle cx="972.7" cy="853.8" r="16.3" fill="#e61ee6" opacity="0.30"/>
<circle cx="1031.4" cy="864.5" r="12.1" fill="#e61ee6" opacity="0.26"/>
<circle cx="1031.2" cy="859.9" r="13.8" fill="#e61ee6" opacity="0.26"/>
<circle cx="1035.5" cy="865.0" r="12.5" fill="#e61ee6" opacity="0.26"/>
<circle cx="1101.0" cy="860.4" r="11.9" fill="#e61ee6" opacity="0.37"/>
<circle cx="1093.1" cy="864.6" r="14.8" fill="#e61ee6" opacity="0.37"/>
<circle cx="1103.9" cy="863.4" r="14.0" fill="#e61ee6" opacity="0.37"/>
<circle cx="1156.7" cy="857.0" r="12.2" fill="#e61ee6" opacity="0.33"/>
<circle cx="1155.3" cy="860.5" r="13.7" fill="#e61ee6" opacity="0.33"/>
<circle cx="1158.2" cy="858.3" r="13.9" fill="#e61ee6" opacity="0.33"/>
<circle cx="1217.3" cy="866.1" r="11.4" fill="#e61ee6" opacity="0.30"/>
<circle cx="1212.3" cy="865.1" r="11.9" fill="#e61ee6" opacity="0.30"/>
<circle cx="1214.8" cy="865.1" r="12.0" fill="#e61ee6" opacity="0.30"/>
<circle cx="1277.3" cy="857.2" r="14.6" fill="#e61ee6" opacity="0.21"/>
<circle cx="1269.2" cy="855.6" r="13.9" fill="#e61ee6" opacity="0.21"/>
<circle cx="1274.5" cy="858.9" r="15.4" fill="#e61ee6" opacity="0.21"/>
<circle cx="921.9" cy="942.3" r="12.4" fill="#e61ee6" opacity="0.54"/>
<circle cx="916.1" cy="938.7" r="12.0" fill="#e61ee6" opacity="0.54"/>
<circle cx="925.2" cy="942.3" r="14.3" fill="#e61ee6" opacity="0.54"/>
<circle cx="974.6" cy="947.1" r="16.3" fill="#e61ee6" opacity="0.42"/>
<circle cx="978.9" cy="943.1" r="12.5" fill="#e61ee6" opacity="0.42"/>
<circle cx="979.4" cy="941.2" r="13.9" fill="#e61ee6" opacity="0.42"/>
<circle cx="1037.4" cy="952.7" r="13.3" fill="#e61ee6" opacity="0.26"/>
<circle cx="1035.6" cy="950.2" r="14.5" fill="#e61ee6" opacity="0.26"/>
<circle cx="1033.3" cy="946.5" r="15.8" fill="#e61ee6" opacity="0.26"/>
<circle cx="1102.5" cy="949.1" r="11.8" fill="#e61ee6" opacity="0.23"/>
<circle cx="1102.8" cy="950.4" r="10.6" fill="#e61ee6" opacity="0.23"/>
<circle cx="1093.9" cy="946.7" r="14.7" fill="#e61ee6" opacity="0.23"/>
<circle cx="1151.7" cy="943.0" r="13.4" fill="#e61ee6" opacity="0.30"/>
<circle cx="1156.8" cy="939.6" r="11.1" fill="#e61ee6" opacity="0.30"/>
<circle cx="1161.4" cy="943.4" r="13.2" fill="#e61ee6" opacity="0.30"/>
<circle cx="1219.6" cy="950.0" r="14.1" fill="#e61ee6" opacity="0.30"/>
<circle cx="1210.2" cy="940.8" r="16.7" fill="#e61ee6" opacity="0.30"/>
<circle cx="1208.5" cy="947.7" r="17.0" fill="#e61ee6" opacity="0.30"/>
<circle cx="1281.1" cy="948.0" r="15.1" fill="#e61ee6" opacity="0.26"/>
<circle cx="1269.3" cy="948.6" r="13.3" fill="#e61ee6" opacity="0.26"/>
<circle cx="1274.0" cy="949.7" r="14.6" fill="#e61ee6" opacity="0.26"/>
<circle cx="923.6" cy="1027.8" r="16.4" fill="#e61ee6" opacity="0.23"/>
<circle cx="924.0" cy="1021.7" r="15.3" fill="#e61ee6" opacity="0.23"/>
<circle cx="930.0" cy="1032.3" r="13.0" fill="#e61ee6" opacity="0.23"/>
<circle cx="983.4" cy="1023.9" r="12.5" fill="#e61ee6" opacity="0.33"/>
<circle cx="974.6" cy="1024.1" r="14.1" fill="#e61ee6" opacity="0.33"/>
<circle cx="975.5" cy="1020.9" r="12.1" fill="#e61ee6" opacity="0.33"/>
<circle cx="1039.2" cy="1022.8" r="14.1" fill="#e61ee6" opacity="0.30"/>
<circle cx="1033.1" cy="1031.1" r="12.6" fill="#e61ee6" opacity="0.30"/>
<circle cx="1030.8" cy="1022.6" r="14.2" fill="#e61ee6" opacity="0.30"/>
<circle cx="1100.6" cy="1025.7" r="11.3" fill="#e61ee6" opacity="0.37"/>
<circle cx="1099.5" cy="1023.5" r="15.0" fill="#e61ee6" opacity="0.37"/>
<circle cx="1098.8" cy="1029.5" r="11.6" fill="#e61ee6" opacity="0.37"/>
<circle cx="1165.3" cy="1027.2" r="15.2" fill="#e61ee6" opacity="0.33"/>
<circle cx="1163.6" cy="1023.1" r="15.0" fill="#e61ee6" opacity="0.33"/>
<circle cx="1163.9" cy="1027.8" r="15.0" fill="#e61ee6" opacity="0.33"/>
<circle cx="1211.0" cy="1029.3" r="11.5" fill="#e61ee6" opacity="0.21"/>
<circle cx="1222.4" cy="1027.6" r="13.3" fill="#e61ee6" opacity="0.21"/>
<circle cx="1220.4" cy="1032.6" r="11.5" fill="#e61ee6" opacity="0.21"/>
<circle cx="1271.0" cy="1029.7" r="13.0" fill="#e61ee6" opacity="0.23"/>
<circle cx="1274.4" cy="1030.0" r="15.2" fill="#e61ee6" opacity="0.23"/>
<circle cx="1273.6" cy="1024.7" r="14.4" fill="#e61ee6" opacity="0.23"/>
<circle cx="944.5" cy="1109.9" r="13.0" fill="#e61ee6" opacity="0.33"/>
<circle cx="944.2" cy="1116.3" r="12.6" fill="#e61ee6" opacity="0.33"/>
<circle cx="949.0" cy="1112.3" r="13.0" fill="#e61ee6" opacity="0.33"/>
<circle cx="1006.2" cy="1109.2" r="13.2" fill="#e61ee6" opacity="0.33"/>
<circle cx="1004.5" cy="1111.6" r="10.3" fill="#e61ee6" opacity="0.33"/>
<circle cx="998.5" cy="1117.5" r="13.0" fill="#e61ee6" opacity="0.33"/>
<circle cx="1060.3" cy="1110.4" r="9.9" fill="#e61ee6" opacity="0.33"/>
<circle cx="1061.0" cy="1111.7" r="9.8" fill="#e61ee6" opacity="0.33"/>
<circle cx="1059.7" cy="1117.6" r="9.9" fill="#e61ee6" opacity="0.33"/>
<circle cx="1121.9" cy="1114.2" r="10.2" fill="#e61ee6" opacity="0.33"/>
<circle cx="1117.8" cy="1109.2" r="10.2" fill="#e61ee6" opacity="0.33"/>
<circle cx="1128.3" cy="1118.1" r="12.4" fill="#e61ee6" opacity="0.33"/>
<circle cx="1188.5" cy="1112.0" r="10.6" fill="#e61ee6" opacity="0.33"/>
<circle cx="1188.1" cy="1115.2" r="13.3" fill="#e61ee6" opacity="0.33"/>
<circle cx="1182.4" cy="1113.0" r="12.5" fill="#e61ee6" opacity="0.33"/>
<circle cx="1244.3" cy="1110.3" r="10.7" fill="#e61ee6" opacity="0.33"/>
<circle cx="1234.6" cy="1114.7" r="13.3" fill="#e61ee6" opacity="0.33"/>
<circle cx="1240.8" cy="1110.1" r="12.4" fill="#e61ee6" opacity="0.33"/>
</g></g>
<text font-family="Liberation Sans, sans-serif" font-size="1"  fill="#fff" transform="matrix(40.8845 0 0 37.7913 1235.65 807.50)">Ni</text>
<path d="M1345.0 42.6 L1363.0 33.4 L1363.0 39.6 L1393.4 39.6 L1393.4 45.6 L1363.0 45.6 L1363.0 51.8 Z" fill="#000"/>
<text font-family="Liberation Sans, sans-serif" font-size="1"  fill="#000" transform="matrix(34.8145 0 0 38.2274 1398.04 54.80)">Line 1</text>
<path d="M1345.0 127.3 L1363.0 118.1 L1363.0 124.3 L1393.4 124.3 L1393.4 130.3 L1363.0 130.3 L1363.0 136.5 Z" fill="#000"/>
<text font-family="Liberation Sans, sans-serif" font-size="1"  fill="#000" transform="matrix(36.7629 0 0 38.2274 1397.88 139.30)">Line 2</text>
<path d="M1345.0 209.0 L1363.0 199.8 L1363.0 206.0 L1393.4 206.0 L1393.4 212.0 L1363.0 212.0 L1363.0 218.2 Z" fill="#000"/>
<text font-family="Liberation Sans, sans-serif" font-size="1"  fill="#000" transform="matrix(36.6731 0 0 38.2274 1397.89 222.50)">Line 3</text>
<path d="M1341.0 293.4 L1359.0 284.2 L1359.0 290.4 L1389.4 290.4 L1389.4 296.4 L1359.0 296.4 L1359.0 302.6 Z" fill="#000"/>
<text font-family="Liberation Sans, sans-serif" font-size="1"  fill="#000" transform="matrix(36.4676 0 0 38.2274 1397.91 305.10)">Line 4</text>
<path d="M1345.0 412.5 L1363.0 403.3 L1363.0 409.5 L1393.4 409.5 L1393.4 415.5 L1363.0 415.5 L1363.0 421.7 Z" fill="#000"/>
<text font-family="Liberation Sans, sans-serif" font-size="1"  fill="#000" transform="matrix(34.8145 0 0 38.2274 1398.04 425.00)">Line 1</text>
<path d="M1345.0 497.1 L1363.0 487.9 L1363.0 494.1 L1393.4 494.1 L1393.4 500.1 L1363.0 500.1 L1363.0 506.3 Z" fill="#000"/>
<text font-family="Liberation Sans, sans-serif" font-size="1"  fill="#000" transform="matrix(36.7629 0 0 38.2274 1397.88 509.10)">Line 2</text>
<path d="M1345.0 579.3 L1363.0 570.1 L1363.0 576.3 L1393.4 576.3 L1393.4 582.3 L1363.0 582.3 L1363.0 588.5 Z" fill="#000"/>
<text font-family="Liberation Sans, sans-serif" font-size="1"  fill="#000" transform="matrix(36.6731 0 0 38.2274 1397.89 592.90)">Line 3</text>
<path d="M1341.0 663.7 L1359.0 654.5 L1359.0 660.7 L1389.4 660.7 L1389.4 666.7 L1359.0 666.7 L1359.0 672.9 Z" fill="#000"/>
<text font-family="Liberation Sans, sans-serif" font-size="1"  fill="#000" transform="matrix(36.4676 0 0 38.2274 1397.91 675.00)">Line 4</text>
<path d="M1345.0 773.3 L1363.0 764.1 L1363.0 770.3 L1393.4 770.3 L1393.4 776.3 L1363.0 776.3 L1363.0 782.5 Z" fill="#000"/>
<text font-family="Liberation Sans, sans-serif" font-size="1"  fill="#000" transform="matrix(34.8145 0 0 38.2274 1398.04 785.90)">Line 1</text>
<path d="M1345.0 858.2 L1363.0 849.0 L1363.0 855.2 L1393.4 855.2 L1393.4 861.2 L1363.0 861.2 L1363.0 867.4 Z" fill="#000"/>
<text font-family="Liberation Sans, sans-serif" font-size="1"  fill="#000" transform="matrix(36.7629 0 0 38.2274 1397.88 870.20)">Line 2</text>
<path d="M1345.0 940.2 L1363.0 931.0 L1363.0 937.2 L1393.4 937.2 L1393.4 943.2 L1363.0 943.2 L1363.0 949.4 Z" fill="#000"/>
<text font-family="Liberation Sans, sans-serif" font-size="1"  fill="#000" transform="matrix(36.6731 0 0 38.2274 1397.89 954.00)">Line 3</text>
<path d="M1341.0 1024.9 L1359.0 1015.7 L1359.0 1021.9 L1389.4 1021.9 L1389.4 1027.9 L1359.0 1027.9 L1359.0 1034.1 Z" fill="#000"/>
<text font-family="Liberation Sans, sans-serif" font-size="1"  fill="#000" transform="matrix(36.4676 0 0 38.2274 1397.91 1036.10)">Line 4</text>
<polyline points="225.82,1365.41 314.43,1266.98 402.40,1397.92 491.33,1504.47 579.94,1476.48 670.15,1412.36" fill="none" stroke="#008000" stroke-width="2.4" stroke-linejoin="round"/>
<polyline points="225.82,1419.59 314.43,1413.27 402.40,1343.74 491.33,1405.14 579.94,1385.27 670.15,1422.30" fill="none" stroke="#0000ff" stroke-width="2.4" stroke-linejoin="round"/>
<polyline points="225.82,1540.59 314.43,1509.89 402.40,1488.22 491.33,1545.11 579.94,1482.80 670.15,1499.05" fill="none" stroke="#ffff00" stroke-width="2.4" stroke-linejoin="round"/>
<polyline points="225.82,1317.55 314.43,1438.55 402.40,1443.07 491.33,1368.12 579.94,1388.89 670.15,1419.59" fill="none" stroke="#00ffff" stroke-width="2.4" stroke-linejoin="round"/>
<polyline points="225.82,1475.57 314.43,1489.12 402.40,1443.07 491.33,1294.97 579.94,1384.37 670.15,1361.80" fill="none" stroke="#ff00ff" stroke-width="2.4" stroke-linejoin="round"/>
<rect x="221.22" y="1360.81" width="9.20" height="9.20" fill="#008000"/>
<rect x="309.83" y="1262.38" width="9.20" height="9.20" fill="#008000"/>
<rect x="397.80" y="1393.32" width="9.20" height="9.20" fill="#008000"/>
<rect x="486.73" y="1499.87" width="9.20" height="9.20" fill="#008000"/>
<rect x="575.34" y="1471.88" width="9.20" height="9.20" fill="#008000"/>
<rect x="665.55" y="1407.76" width="9.20" height="9.20" fill="#008000"/>
<circle cx="225.82" cy="1419.59" r="5.60" fill="#0000ff"/>
<circle cx="314.43" cy="1413.27" r="5.60" fill="#0000ff"/>
<circle cx="402.40" cy="1343.74" r="5.60" fill="#0000ff"/>
<circle cx="491.33" cy="1405.14" r="5.60" fill="#0000ff"/>
<circle cx="579.94" cy="1385.27" r="5.60" fill="#0000ff"/>
<circle cx="670.15" cy="1422.30" r="5.60" fill="#0000ff"/>
<path d="M225.82 1533.79 L232.42 1545.19 L219.22 1545.19 Z" fill="#ffff00"/>
<path d="M314.43 1503.09 L321.03 1514.49 L307.83 1514.49 Z" fill="#ffff00"/>
<path d="M402.40 1481.42 L409.00 1492.82 L395.80 1492.82 Z" fill="#ffff00"/>
<path d="M491.33 1538.31 L497.93 1549.70 L484.73 1549.70 Z" fill="#ffff00"/>
<path d="M579.94 1476.00 L586.54 1487.40 L573.34 1487.40 Z" fill="#ffff00"/>
<path d="M670.15 1492.25 L676.75 1503.65 L663.55 1503.65 Z" fill="#ffff00"/>
<path d="M225.82 1324.35 L232.22 1312.95 L219.42 1312.95 Z" fill="#00ffff"/>
<path d="M314.43 1445.35 L320.83 1433.95 L308.03 1433.95 Z" fill="#00ffff"/>
<path d="M402.40 1449.87 L408.80 1438.47 L396.00 1438.47 Z" fill="#00ffff"/>
<path d="M491.33 1374.92 L497.73 1363.52 L484.93 1363.52 Z" fill="#00ffff"/>
<path d="M579.94 1395.69 L586.34 1384.29 L573.54 1384.29 Z" fill="#00ffff"/>
<path d="M670.15 1426.39 L676.55 1414.99 L663.75 1414.99 Z" fill="#00ffff"/>
<path d="M225.82 1468.57 L232.02 1475.57 L225.82 1482.57 L219.62 1475.57 Z" fill="#ff00ff"/>
<path d="M314.43 1482.12 L320.63 1489.12 L314.43 1496.12 L308.23 1489.12 Z" fill="#ff00ff"/>
<path d="M402.40 1436.07 L408.60 1443.07 L402.40 1450.07 L396.20 1443.07 Z" fill="#ff00ff"/>
<path d="M491.33 1287.97 L497.53 1294.97 L491.33 1301.97 L485.13 1294.97 Z" fill="#ff00ff"/>
<path d="M579.94 1377.37 L586.14 1384.37 L579.94 1391.37 L573.74 1384.37 Z" fill="#ff00ff"/>
<path d="M670.15 1354.80 L676.35 1361.80 L670.15 1368.80 L663.95 1361.80 Z" fill="#ff00ff"/>
<rect x="124.10" y="1152.30" width="607.90" height="451.50" fill="none" stroke="#000" stroke-width="2"/>
<path d="M124.10 1603.80H115.10M124.10 1558.65H119.60M124.10 1513.50H115.10M124.10 1468.35H119.60M124.10 1423.20H115.10M124.10 1378.05H119.60M124.10 1332.90H115.10M124.10 1287.75H119.60M124.10 1242.60H115.10M124.10 1197.45H119.60M124.10 1152.30H115.10M124.10 1603.80V1612.80M172.08 1603.80V1608.30M220.07 1603.80V1612.80M268.05 1603.80V1608.30M316.03 1603.80V1612.80M364.02 1603.80V1608.30M412.00 1603.80V1612.80M459.98 1603.80V1608.30M507.97 1603.80V1612.80M555.95 1603.80V1608.30M603.93 1603.80V1612.80M651.92 1603.80V1608.30M699.90 1603.80V1612.80" stroke="#000" stroke-width="2" fill="none"/>
<text font-family="Liberation Sans, sans-serif" font-size="33.80"  fill="#000" transform="matrix(1 0 0 1.0000 62.03 1613.80)">0.0</text>
<text font-family="Liberation Sans, sans-serif" font-size="33.80"  fill="#000" transform="matrix(1 0 0 1.0000 62.36 1523.50)">0.1</text>
<text font-family="Liberation Sans, sans-serif" font-size="33.80"  fill="#000" transform="matrix(1 0 0 1.0000 62.41 1433.20)">0.2</text>
<text font-family="Liberation Sans, sans-serif" font-size="33.80"  fill="#000" transform="matrix(1 0 0 1.0000 62.20 1342.90)">0.3</text>
<text font-family="Liberation Sans, sans-serif" font-size="33.80"  fill="#000" transform="matrix(1 0 0 1.0000 61.70 1252.60)">0.4</text>
<text font-family="Liberation Sans, sans-serif" font-size="33.80"  fill="#000" transform="matrix(1 0 0 1.0000 62.13 1162.30)">0.5</text>
<text font-family="Liberation Sans, sans-serif" font-size="33.80"  fill="#000" transform="matrix(1 0 0 1.0000 100.61 1645.40)">0.0</text>
<text font-family="Liberation Sans, sans-serif" font-size="33.80"  fill="#000" transform="matrix(1 0 0 1.0000 196.57 1645.40)">0.3</text>
<text font-family="Liberation Sans, sans-serif" font-size="33.80"  fill="#000" transform="matrix(1 0 0 1.0000 292.54 1645.40)">0.6</text>
<text font-family="Liberation Sans, sans-serif" font-size="33.80"  fill="#000" transform="matrix(1 0 0 1.0000 388.51 1645.40)">0.9</text>
<text font-family="Liberation Sans, sans-serif" font-size="33.80"  fill="#000" transform="matrix(1 0 0 1.0000 484.47 1645.40)">1.2</text>
<text font-family="Liberation Sans, sans-serif" font-size="33.80"  fill="#000" transform="matrix(1 0 0 1.0000 580.44 1645.40)">1.5</text>
<text font-family="Liberation Sans, sans-serif" font-size="33.80"  fill="#000" transform="matrix(1 0 0 1.0000 676.41 1645.40)">1.8</text>
<text font-family="Liberation Sans, sans-serif" font-size="1"  fill="#000" transform="matrix(38.1224 0 0 40.5530 255.18 1695.70)">Atomic position (nm)</text>
<text font-family="Liberation Sans, sans-serif" font-size="1" fill="#000" transform="translate(43.10 1523.17) rotate(-90) scale(37.3641 40.2623)">Atomic fraction</text>
<line x1="164.30" y1="1195.30" x2="216.60" y2="1195.30" stroke="#008000" stroke-width="2.1"/>
<rect x="185.80" y="1190.70" width="9.20" height="9.20" fill="#008000"/>
<text font-family="Liberation Sans, sans-serif" font-size="34.60"  fill="#000" transform="matrix(1 0 0 1.0000 225.14 1203.40)">Cr</text>
<line x1="280.30" y1="1195.30" x2="332.60" y2="1195.30" stroke="#0000ff" stroke-width="2.1"/>
<circle cx="306.40" cy="1195.30" r="5.60" fill="#0000ff"/>
<text font-family="Liberation Sans, sans-serif" font-size="34.60"  fill="#000" transform="matrix(1 0 0 1.0000 341.26 1203.40)">Mn</text>
<line x1="407.80" y1="1195.30" x2="460.10" y2="1195.30" stroke="#ffff00" stroke-width="2.1"/>
<path d="M433.90 1188.50 L440.50 1199.90 L427.30 1199.90 Z" fill="#ffff00"/>
<text font-family="Liberation Sans, sans-serif" font-size="34.60"  fill="#000" transform="matrix(1 0 0 1.0000 468.76 1203.40)">Fe</text>
<line x1="164.30" y1="1237.60" x2="216.60" y2="1237.60" stroke="#00ffff" stroke-width="2.1"/>
<path d="M190.40 1244.40 L196.80 1233.00 L184.00 1233.00 Z" fill="#00ffff"/>
<text font-family="Liberation Sans, sans-serif" font-size="34.60"  fill="#000" transform="matrix(1 0 0 1.0000 225.14 1244.40)">Co</text>
<line x1="287.80" y1="1237.60" x2="340.10" y2="1237.60" stroke="#ff00ff" stroke-width="2.1"/>
<path d="M313.90 1230.60 L320.10 1237.60 L313.90 1244.60 L307.70 1237.60 Z" fill="#ff00ff"/>
<text font-family="Liberation Sans, sans-serif" font-size="34.60"  fill="#000" transform="matrix(1 0 0 1.0000 347.96 1244.40)">Ni</text>
<text font-family="Liberation Sans, sans-serif" font-size="1"  fill="#000" transform="matrix(35.1614 0 0 37.3553 602.32 1207.70)">Line 1</text>
<polyline points="990.92,1363.80 1079.53,1372.37 1167.50,1418.78 1256.43,1464.73 1345.04,1497.68 1435.25,1456.70" fill="none" stroke="#008000" stroke-width="2.4" stroke-linejoin="round"/>
<polyline points="990.92,1438.73 1079.53,1408.76 1167.50,1464.73 1256.43,1383.75 1345.04,1479.72 1435.25,1403.70" fill="none" stroke="#0000ff" stroke-width="2.4" stroke-linejoin="round"/>
<polyline points="990.92,1366.78 1079.53,1423.20 1167.50,1416.70 1256.43,1404.24 1345.04,1403.70 1435.25,1402.71" fill="none" stroke="#ffff00" stroke-width="2.4" stroke-linejoin="round"/>
<polyline points="990.92,1449.74 1079.53,1440.72 1167.50,1379.24 1256.43,1443.70 1345.04,1299.79 1435.25,1350.71" fill="none" stroke="#00ffff" stroke-width="2.4" stroke-linejoin="round"/>
<polyline points="990.92,1506.71 1079.53,1482.70 1167.50,1448.75 1256.43,1431.78 1345.04,1447.22 1435.25,1513.21" fill="none" stroke="#ff00ff" stroke-width="2.4" stroke-linejoin="round"/>
<rect x="986.32" y="1359.20" width="9.20" height="9.20" fill="#008000"/>
<rect x="1074.93" y="1367.77" width="9.20" height="9.20" fill="#008000"/>
<rect x="1162.90" y="1414.18" width="9.20" height="9.20" fill="#008000"/>
<rect x="1251.83" y="1460.13" width="9.20" height="9.20" fill="#008000"/>
<rect x="1340.44" y="1493.08" width="9.20" height="9.20" fill="#008000"/>
<rect x="1430.65" y="1452.10" width="9.20" height="9.20" fill="#008000"/>
<circle cx="990.92" cy="1438.73" r="5.60" fill="#0000ff"/>
<circle cx="1079.53" cy="1408.76" r="5.60" fill="#0000ff"/>
<circle cx="1167.50" cy="1464.73" r="5.60" fill="#0000ff"/>
<circle cx="1256.43" cy="1383.75" r="5.60" fill="#0000ff"/>
<circle cx="1345.04" cy="1479.72" r="5.60" fill="#0000ff"/>
<circle cx="1435.25" cy="1403.70" r="5.60" fill="#0000ff"/>
<path d="M990.92 1359.98 L997.52 1371.38 L984.32 1371.38 Z" fill="#ffff00"/>
<path d="M1079.53 1416.40 L1086.13 1427.80 L1072.93 1427.80 Z" fill="#ffff00"/>
<path d="M1167.50 1409.90 L1174.10 1421.30 L1160.90 1421.30 Z" fill="#ffff00"/>
<path d="M1256.43 1397.44 L1263.03 1408.84 L1249.83 1408.84 Z" fill="#ffff00"/>
<path d="M1345.04 1396.90 L1351.64 1408.30 L1338.44 1408.30 Z" fill="#ffff00"/>
<path d="M1435.25 1395.91 L1441.85 1407.31 L1428.65 1407.31 Z" fill="#ffff00"/>
<path d="M990.92 1456.54 L997.32 1445.14 L984.52 1445.14 Z" fill="#00ffff"/>
<path d="M1079.53 1447.52 L1085.93 1436.12 L1073.13 1436.12 Z" fill="#00ffff"/>
<path d="M1167.50 1386.04 L1173.90 1374.64 L1161.10 1374.64 Z" fill="#00ffff"/>
<path d="M1256.43 1450.50 L1262.83 1439.10 L1250.03 1439.10 Z" fill="#00ffff"/>
<path d="M1345.04 1306.59 L1351.44 1295.19 L1338.64 1295.19 Z" fill="#00ffff"/>
<path d="M1435.25 1357.51 L1441.65 1346.11 L1428.85 1346.11 Z" fill="#00ffff"/>
<path d="M990.92 1499.71 L997.12 1506.71 L990.92 1513.71 L984.72 1506.71 Z" fill="#ff00ff"/>
<path d="M1079.53 1475.70 L1085.73 1482.70 L1079.53 1489.70 L1073.33 1482.70 Z" fill="#ff00ff"/>
<path d="M1167.50 1441.75 L1173.70 1448.75 L1167.50 1455.75 L1161.30 1448.75 Z" fill="#ff00ff"/>
<path d="M1256.43 1424.78 L1262.63 1431.78 L1256.43 1438.78 L1250.23 1431.78 Z" fill="#ff00ff"/>
<path d="M1345.04 1440.22 L1351.24 1447.22 L1345.04 1454.22 L1338.84 1447.22 Z" fill="#ff00ff"/>
<path d="M1435.25 1506.21 L1441.45 1513.21 L1435.25 1520.21 L1429.05 1513.21 Z" fill="#ff00ff"/>
<rect x="889.20" y="1154.80" width="607.80" height="451.40" fill="none" stroke="#000" stroke-width="2"/>
<path d="M889.20 1606.20H880.20M889.20 1561.06H884.70M889.20 1515.92H880.20M889.20 1470.78H884.70M889.20 1425.64H880.20M889.20 1380.50H884.70M889.20 1335.36H880.20M889.20 1290.22H884.70M889.20 1245.08H880.20M889.20 1199.94H884.70M889.20 1154.80H880.20M889.20 1606.20V1615.20M937.18 1606.20V1610.70M985.17 1606.20V1615.20M1033.15 1606.20V1610.70M1081.13 1606.20V1615.20M1129.12 1606.20V1610.70M1177.10 1606.20V1615.20M1225.08 1606.20V1610.70M1273.07 1606.20V1615.20M1321.05 1606.20V1610.70M1369.03 1606.20V1615.20M1417.02 1606.20V1610.70M1465.00 1606.20V1615.20" stroke="#000" stroke-width="2" fill="none"/>
<text font-family="Liberation Sans, sans-serif" font-size="33.80"  fill="#000" transform="matrix(1 0 0 1.0000 827.13 1616.20)">0.0</text>
<text font-family="Liberation Sans, sans-serif" font-size="33.80"  fill="#000" transform="matrix(1 0 0 1.0000 827.46 1525.92)">0.1</text>
<text font-family="Liberation Sans, sans-serif" font-size="33.80"  fill="#000" transform="matrix(1 0 0 1.0000 827.51 1435.64)">0.2</text>
<text font-family="Liberation Sans, sans-serif" font-size="33.80"  fill="#000" transform="matrix(1 0 0 1.0000 827.30 1345.36)">0.3</text>
<text font-family="Liberation Sans, sans-serif" font-size="33.80"  fill="#000" transform="matrix(1 0 0 1.0000 826.80 1255.08)">0.4</text>
<text font-family="Liberation Sans, sans-serif" font-size="33.80"  fill="#000" transform="matrix(1 0 0 1.0000 827.23 1164.80)">0.5</text>
<text font-family="Liberation Sans, sans-serif" font-size="33.80"  fill="#000" transform="matrix(1 0 0 1.0000 865.71 1647.80)">0.0</text>
<text font-family="Liberation Sans, sans-serif" font-size="33.80"  fill="#000" transform="matrix(1 0 0 1.0000 961.67 1647.80)">0.3</text>
<text font-family="Liberation Sans, sans-serif" font-size="33.80"  fill="#000" transform="matrix(1 0 0 1.0000 1057.64 1647.80)">0.6</text>
<text font-family="Liberation Sans, sans-serif" font-size="33.80"  fill="#000" transform="matrix(1 0 0 1.0000 1153.61 1647.80)">0.9</text>
<text font-family="Liberation Sans, sans-serif" font-size="33.80"  fill="#000" transform="matrix(1 0 0 1.0000 1249.57 1647.80)">1.2</text>
<text font-family="Liberation Sans, sans-serif" font-size="33.80"  fill="#000" transform="matrix(1 0 0 1.0000 1345.54 1647.80)">1.5</text>
<text font-family="Liberation Sans, sans-serif" font-size="33.80"  fill="#000" transform="matrix(1 0 0 1.0000 1441.51 1647.80)">1.8</text>
<text font-family="Liberation Sans, sans-serif" font-size="1"  fill="#000" transform="matrix(38.1224 0 0 40.5530 1020.23 1698.10)">Atomic position (nm)</text>
<text font-family="Liberation Sans, sans-serif" font-size="1" fill="#000" transform="translate(808.20 1525.67) rotate(-90) scale(37.3641 40.2623)">Atomic fraction</text>
<line x1="929.40" y1="1197.80" x2="981.70" y2="1197.80" stroke="#008000" stroke-width="2.1"/>
<rect x="950.90" y="1193.20" width="9.20" height="9.20" fill="#008000"/>
<text font-family="Liberation Sans, sans-serif" font-size="34.60"  fill="#000" transform="matrix(1 0 0 1.0000 990.24 1205.90)">Cr</text>
<line x1="1045.40" y1="1197.80" x2="1097.70" y2="1197.80" stroke="#0000ff" stroke-width="2.1"/>
<circle cx="1071.50" cy="1197.80" r="5.60" fill="#0000ff"/>
<text font-family="Liberation Sans, sans-serif" font-size="34.60"  fill="#000" transform="matrix(1 0 0 1.0000 1106.36 1205.90)">Mn</text>
<line x1="1172.90" y1="1197.80" x2="1225.20" y2="1197.80" stroke="#ffff00" stroke-width="2.1"/>
<path d="M1199.00 1191.00 L1205.60 1202.40 L1192.40 1202.40 Z" fill="#ffff00"/>
<text font-family="Liberation Sans, sans-serif" font-size="34.60"  fill="#000" transform="matrix(1 0 0 1.0000 1233.86 1205.90)">Fe</text>
<line x1="929.40" y1="1240.10" x2="981.70" y2="1240.10" stroke="#00ffff" stroke-width="2.1"/>
<path d="M955.50 1246.90 L961.90 1235.50 L949.10 1235.50 Z" fill="#00ffff"/>
<text font-family="Liberation Sans, sans-serif" font-size="34.60"  fill="#000" transform="matrix(1 0 0 1.0000 990.24 1246.90)">Co</text>
<line x1="1052.90" y1="1240.10" x2="1105.20" y2="1240.10" stroke="#ff00ff" stroke-width="2.1"/>
<path d="M1079.00 1233.10 L1085.20 1240.10 L1079.00 1247.10 L1072.80 1240.10 Z" fill="#ff00ff"/>
<text font-family="Liberation Sans, sans-serif" font-size="34.60"  fill="#000" transform="matrix(1 0 0 1.0000 1113.06 1246.90)">Ni</text>
<text font-family="Liberation Sans, sans-serif" font-size="1"  fill="#000" transform="matrix(36.8015 0 0 37.9367 1369.38 1211.90)">Line 2</text>
<polyline points="223.52,1934.41 312.13,1960.94 400.10,1889.29 489.03,2057.67 577.64,2062.73 667.85,1969.42" fill="none" stroke="#008000" stroke-width="2.4" stroke-linejoin="round"/>
<polyline points="223.52,1945.87 312.13,1981.96 400.10,2015.08 489.03,1943.88 577.64,1997.57 667.85,1961.48" fill="none" stroke="#0000ff" stroke-width="2.4" stroke-linejoin="round"/>
<polyline points="223.52,2070.22 312.13,1980.97 400.10,1951.91 489.03,1978.44 577.64,2002.09 667.85,2043.14" fill="none" stroke="#ffff00" stroke-width="2.4" stroke-linejoin="round"/>
<polyline points="223.52,2003.53 312.13,2003.53 400.10,2067.69 489.03,1996.04 577.64,1897.23 667.85,1965.99" fill="none" stroke="#00ffff" stroke-width="2.4" stroke-linejoin="round"/>
<polyline points="223.52,2009.03 312.13,2035.11 400.10,2039.17 489.03,1988.01 577.64,2004.52 667.85,2019.59" fill="none" stroke="#ff00ff" stroke-width="2.4" stroke-linejoin="round"/>
<rect x="218.92" y="1929.81" width="9.20" height="9.20" fill="#008000"/>
<rect x="307.53" y="1956.34" width="9.20" height="9.20" fill="#008000"/>
<rect x="395.50" y="1884.69" width="9.20" height="9.20" fill="#008000"/>
<rect x="484.43" y="2053.07" width="9.20" height="9.20" fill="#008000"/>
<rect x="573.04" y="2058.13" width="9.20" height="9.20" fill="#008000"/>
<rect x="663.25" y="1964.82" width="9.20" height="9.20" fill="#008000"/>
<circle cx="223.52" cy="1945.87" r="5.60" fill="#0000ff"/>
<circle cx="312.13" cy="1981.96" r="5.60" fill="#0000ff"/>
<circle cx="400.10" cy="2015.08" r="5.60" fill="#0000ff"/>
<circle cx="489.03" cy="1943.88" r="5.60" fill="#0000ff"/>
<circle cx="577.64" cy="1997.57" r="5.60" fill="#0000ff"/>
<circle cx="667.85" cy="1961.48" r="5.60" fill="#0000ff"/>
<path d="M223.52 2063.42 L230.12 2074.82 L216.92 2074.82 Z" fill="#ffff00"/>
<path d="M312.13 1974.17 L318.73 1985.57 L305.53 1985.57 Z" fill="#ffff00"/>
<path d="M400.10 1945.11 L406.70 1956.51 L393.50 1956.51 Z" fill="#ffff00"/>
<path d="M489.03 1971.64 L495.63 1983.04 L482.43 1983.04 Z" fill="#ffff00"/>
<path d="M577.64 1995.29 L584.24 2006.69 L571.04 2006.69 Z" fill="#ffff00"/>
<path d="M667.85 2036.34 L674.45 2047.74 L661.25 2047.74 Z" fill="#ffff00"/>
<path d="M223.52 2010.33 L229.92 1998.93 L217.12 1998.93 Z" fill="#00ffff"/>
<path d="M312.13 2010.33 L318.53 1998.93 L305.73 1998.93 Z" fill="#00ffff"/>
<path d="M400.10 2074.49 L406.50 2063.09 L393.70 2063.09 Z" fill="#00ffff"/>
<path d="M489.03 2002.84 L495.43 1991.44 L482.63 1991.44 Z" fill="#00ffff"/>
<path d="M577.64 1904.03 L584.04 1892.63 L571.24 1892.63 Z" fill="#00ffff"/>
<path d="M667.85 1972.79 L674.25 1961.39 L661.45 1961.39 Z" fill="#00ffff"/>
<path d="M223.52 2002.03 L229.72 2009.03 L223.52 2016.03 L217.32 2009.03 Z" fill="#ff00ff"/>
<path d="M312.13 2028.11 L318.33 2035.11 L312.13 2042.11 L305.93 2035.11 Z" fill="#ff00ff"/>
<path d="M400.10 2032.17 L406.30 2039.17 L400.10 2046.17 L393.90 2039.17 Z" fill="#ff00ff"/>
<path d="M489.03 1981.01 L495.23 1988.01 L489.03 1995.01 L482.83 1988.01 Z" fill="#ff00ff"/>
<path d="M577.64 1997.52 L583.84 2004.52 L577.64 2011.52 L571.44 2004.52 Z" fill="#ff00ff"/>
<path d="M667.85 2012.59 L674.05 2019.59 L667.85 2026.59 L661.65 2019.59 Z" fill="#ff00ff"/>
<rect x="121.80" y="1721.80" width="607.30" height="451.20" fill="none" stroke="#000" stroke-width="2"/>
<path d="M121.80 2173.00H112.80M121.80 2127.88H117.30M121.80 2082.76H112.80M121.80 2037.64H117.30M121.80 1992.52H112.80M121.80 1947.40H117.30M121.80 1902.28H112.80M121.80 1857.16H117.30M121.80 1812.04H112.80M121.80 1766.92H117.30M121.80 1721.80H112.80M121.80 2173.00V2182.00M169.78 2173.00V2177.50M217.77 2173.00V2182.00M265.75 2173.00V2177.50M313.73 2173.00V2182.00M361.72 2173.00V2177.50M409.70 2173.00V2182.00M457.68 2173.00V2177.50M505.67 2173.00V2182.00M553.65 2173.00V2177.50M601.63 2173.00V2182.00M649.62 2173.00V2177.50M697.60 2173.00V2182.00" stroke="#000" stroke-width="2" fill="none"/>
<text font-family="Liberation Sans, sans-serif" font-size="33.80"  fill="#000" transform="matrix(1 0 0 1.0000 59.73 2183.00)">0.0</text>
<text font-family="Liberation Sans, sans-serif" font-size="33.80"  fill="#000" transform="matrix(1 0 0 1.0000 60.06 2092.76)">0.1</text>
<text font-family="Liberation Sans, sans-serif" font-size="33.80"  fill="#000" transform="matrix(1 0 0 1.0000 60.11 2002.52)">0.2</text>
<text font-family="Liberation Sans, sans-serif" font-size="33.80"  fill="#000" transform="matrix(1 0 0 1.0000 59.90 1912.28)">0.3</text>
<text font-family="Liberation Sans, sans-serif" font-size="33.80"  fill="#000" transform="matrix(1 0 0 1.0000 59.40 1822.04)">0.4</text>
<text font-family="Liberation Sans, sans-serif" font-size="33.80"  fill="#000" transform="matrix(1 0 0 1.0000 59.83 1731.80)">0.5</text>
<text font-family="Liberation Sans, sans-serif" font-size="33.80"  fill="#000" transform="matrix(1 0 0 1.0000 98.31 2214.60)">0.0</text>
<text font-family="Liberation Sans, sans-serif" font-size="33.80"  fill="#000" transform="matrix(1 0 0 1.0000 194.27 2214.60)">0.3</text>
<text font-family="Liberation Sans, sans-serif" font-size="33.80"  fill="#000" transform="matrix(1 0 0 1.0000 290.24 2214.60)">0.6</text>
<text font-family="Liberation Sans, sans-serif" font-size="33.80"  fill="#000" transform="matrix(1 0 0 1.0000 386.21 2214.60)">0.9</text>
<text font-family="Liberation Sans, sans-serif" font-size="33.80"  fill="#000" transform="matrix(1 0 0 1.0000 482.17 2214.60)">1.2</text>
<text font-family="Liberation Sans, sans-serif" font-size="33.80"  fill="#000" transform="matrix(1 0 0 1.0000 578.14 2214.60)">1.5</text>
<text font-family="Liberation Sans, sans-serif" font-size="33.80"  fill="#000" transform="matrix(1 0 0 1.0000 674.11 2214.60)">1.8</text>
<text font-family="Liberation Sans, sans-serif" font-size="1"  fill="#000" transform="matrix(38.1224 0 0 40.5530 252.58 2264.90)">Atomic position (nm)</text>
<text font-family="Liberation Sans, sans-serif" font-size="1" fill="#000" transform="translate(40.80 2092.67) rotate(-90) scale(37.3641 40.2623)">Atomic fraction</text>
<line x1="162.00" y1="1764.80" x2="214.30" y2="1764.80" stroke="#008000" stroke-width="2.1"/>
<rect x="183.50" y="1760.20" width="9.20" height="9.20" fill="#008000"/>
<text font-family="Liberation Sans, sans-serif" font-size="34.60"  fill="#000" transform="matrix(1 0 0 1.0000 222.84 1772.90)">Cr</text>
<line x1="278.00" y1="1764.80" x2="330.30" y2="1764.80" stroke="#0000ff" stroke-width="2.1"/>
<circle cx="304.10" cy="1764.80" r="5.60" fill="#0000ff"/>
<text font-family="Liberation Sans, sans-serif" font-size="34.60"  fill="#000" transform="matrix(1 0 0 1.0000 338.96 1772.90)">Mn</text>
<line x1="405.50" y1="1764.80" x2="457.80" y2="1764.80" stroke="#ffff00" stroke-width="2.1"/>
<path d="M431.60 1758.00 L438.20 1769.40 L425.00 1769.40 Z" fill="#ffff00"/>
<text font-family="Liberation Sans, sans-serif" font-size="34.60"  fill="#000" transform="matrix(1 0 0 1.0000 466.46 1772.90)">Fe</text>
<line x1="162.00" y1="1807.10" x2="214.30" y2="1807.10" stroke="#00ffff" stroke-width="2.1"/>
<path d="M188.10 1813.90 L194.50 1802.50 L181.70 1802.50 Z" fill="#00ffff"/>
<text font-family="Liberation Sans, sans-serif" font-size="34.60"  fill="#000" transform="matrix(1 0 0 1.0000 222.84 1813.90)">Co</text>
<line x1="285.50" y1="1807.10" x2="337.80" y2="1807.10" stroke="#ff00ff" stroke-width="2.1"/>
<path d="M311.60 1800.10 L317.80 1807.10 L311.60 1814.10 L305.40 1807.10 Z" fill="#ff00ff"/>
<text font-family="Liberation Sans, sans-serif" font-size="34.60"  fill="#000" transform="matrix(1 0 0 1.0000 345.66 1813.90)">Ni</text>
<text font-family="Liberation Sans, sans-serif" font-size="1"  fill="#000" transform="matrix(36.8655 0 0 38.2274 602.38 1775.30)">Line 3</text>
<polyline points="989.32,1974.19 1077.93,1956.23 1165.90,1985.66 1254.83,2000.64 1343.44,2072.67 1433.65,2044.15" fill="none" stroke="#008000" stroke-width="2.4" stroke-linejoin="round"/>
<polyline points="989.32,1890.70 1077.93,2004.16 1165.90,1943.24 1254.83,2012.64 1343.44,1933.22 1433.65,1919.23" fill="none" stroke="#0000ff" stroke-width="2.4" stroke-linejoin="round"/>
<polyline points="989.32,2029.16 1077.93,1982.68 1165.90,2031.15 1254.83,1978.71 1343.44,1975.73 1433.65,1933.22" fill="none" stroke="#ffff00" stroke-width="2.4" stroke-linejoin="round"/>
<polyline points="989.32,2036.11 1077.93,2000.19 1165.90,2035.21 1254.83,2002.72 1343.44,1942.24 1433.65,2039.18" fill="none" stroke="#00ffff" stroke-width="2.4" stroke-linejoin="round"/>
<polyline points="989.32,2024.20 1077.93,2008.67 1165.90,1956.23 1254.83,1958.67 1343.44,2028.62 1433.65,2017.16" fill="none" stroke="#ff00ff" stroke-width="2.4" stroke-linejoin="round"/>
<rect x="984.72" y="1969.59" width="9.20" height="9.20" fill="#008000"/>
<rect x="1073.33" y="1951.63" width="9.20" height="9.20" fill="#008000"/>
<rect x="1161.30" y="1981.06" width="9.20" height="9.20" fill="#008000"/>
<rect x="1250.23" y="1996.04" width="9.20" height="9.20" fill="#008000"/>
<rect x="1338.84" y="2068.07" width="9.20" height="9.20" fill="#008000"/>
<rect x="1429.05" y="2039.55" width="9.20" height="9.20" fill="#008000"/>
<circle cx="989.32" cy="1890.70" r="5.60" fill="#0000ff"/>
<circle cx="1077.93" cy="2004.16" r="5.60" fill="#0000ff"/>
<circle cx="1165.90" cy="1943.24" r="5.60" fill="#0000ff"/>
<circle cx="1254.83" cy="2012.64" r="5.60" fill="#0000ff"/>
<circle cx="1343.44" cy="1933.22" r="5.60" fill="#0000ff"/>
<circle cx="1433.65" cy="1919.23" r="5.60" fill="#0000ff"/>
<path d="M989.32 2022.36 L995.92 2033.76 L982.72 2033.76 Z" fill="#ffff00"/>
<path d="M1077.93 1975.88 L1084.53 1987.28 L1071.33 1987.28 Z" fill="#ffff00"/>
<path d="M1165.90 2024.35 L1172.50 2035.75 L1159.30 2035.75 Z" fill="#ffff00"/>
<path d="M1254.83 1971.91 L1261.43 1983.31 L1248.23 1983.31 Z" fill="#ffff00"/>
<path d="M1343.44 1968.93 L1350.04 1980.33 L1336.84 1980.33 Z" fill="#ffff00"/>
<path d="M1433.65 1926.42 L1440.25 1937.82 L1427.05 1937.82 Z" fill="#ffff00"/>
<path d="M989.32 2042.91 L995.72 2031.51 L982.92 2031.51 Z" fill="#00ffff"/>
<path d="M1077.93 2006.99 L1084.33 1995.59 L1071.53 1995.59 Z" fill="#00ffff"/>
<path d="M1165.90 2042.01 L1172.30 2030.61 L1159.50 2030.61 Z" fill="#00ffff"/>
<path d="M1254.83 2009.52 L1261.23 1998.12 L1248.43 1998.12 Z" fill="#00ffff"/>
<path d="M1343.44 1949.04 L1349.84 1937.64 L1337.04 1937.64 Z" fill="#00ffff"/>
<path d="M1433.65 2045.98 L1440.05 2034.58 L1427.25 2034.58 Z" fill="#00ffff"/>
<path d="M989.32 2017.20 L995.52 2024.20 L989.32 2031.20 L983.12 2024.20 Z" fill="#ff00ff"/>
<path d="M1077.93 2001.67 L1084.13 2008.67 L1077.93 2015.67 L1071.73 2008.67 Z" fill="#ff00ff"/>
<path d="M1165.90 1949.23 L1172.10 1956.23 L1165.90 1963.23 L1159.70 1956.23 Z" fill="#ff00ff"/>
<path d="M1254.83 1951.67 L1261.03 1958.67 L1254.83 1965.67 L1248.63 1958.67 Z" fill="#ff00ff"/>
<path d="M1343.44 2021.62 L1349.64 2028.62 L1343.44 2035.62 L1337.24 2028.62 Z" fill="#ff00ff"/>
<path d="M1433.65 2010.16 L1439.85 2017.16 L1433.65 2024.16 L1427.45 2017.16 Z" fill="#ff00ff"/>
<rect x="887.60" y="1719.30" width="607.60" height="451.30" fill="none" stroke="#000" stroke-width="2"/>
<path d="M887.60 2170.60H878.60M887.60 2125.47H883.10M887.60 2080.34H878.60M887.60 2035.21H883.10M887.60 1990.08H878.60M887.60 1944.95H883.10M887.60 1899.82H878.60M887.60 1854.69H883.10M887.60 1809.56H878.60M887.60 1764.43H883.10M887.60 1719.30H878.60M887.60 2170.60V2179.60M935.58 2170.60V2175.10M983.57 2170.60V2179.60M1031.55 2170.60V2175.10M1079.53 2170.60V2179.60M1127.52 2170.60V2175.10M1175.50 2170.60V2179.60M1223.48 2170.60V2175.10M1271.47 2170.60V2179.60M1319.45 2170.60V2175.10M1367.43 2170.60V2179.60M1415.42 2170.60V2175.10M1463.40 2170.60V2179.60" stroke="#000" stroke-width="2" fill="none"/>
<text font-family="Liberation Sans, sans-serif" font-size="33.80"  fill="#000" transform="matrix(1 0 0 1.0000 825.53 2180.60)">0.0</text>
<text font-family="Liberation Sans, sans-serif" font-size="33.80"  fill="#000" transform="matrix(1 0 0 1.0000 825.86 2090.34)">0.1</text>
<text font-family="Liberation Sans, sans-serif" font-size="33.80"  fill="#000" transform="matrix(1 0 0 1.0000 825.91 2000.08)">0.2</text>
<text font-family="Liberation Sans, sans-serif" font-size="33.80"  fill="#000" transform="matrix(1 0 0 1.0000 825.70 1909.82)">0.3</text>
<text font-family="Liberation Sans, sans-serif" font-size="33.80"  fill="#000" transform="matrix(1 0 0 1.0000 825.20 1819.56)">0.4</text>
<text font-family="Liberation Sans, sans-serif" font-size="33.80"  fill="#000" transform="matrix(1 0 0 1.0000 825.63 1729.30)">0.5</text>
<text font-family="Liberation Sans, sans-serif" font-size="33.80"  fill="#000" transform="matrix(1 0 0 1.0000 864.11 2212.20)">0.0</text>
<text font-family="Liberation Sans, sans-serif" font-size="33.80"  fill="#000" transform="matrix(1 0 0 1.0000 960.07 2212.20)">0.3</text>
<text font-family="Liberation Sans, sans-serif" font-size="33.80"  fill="#000" transform="matrix(1 0 0 1.0000 1056.04 2212.20)">0.6</text>
<text font-family="Liberation Sans, sans-serif" font-size="33.80"  fill="#000" transform="matrix(1 0 0 1.0000 1152.01 2212.20)">0.9</text>
<text font-family="Liberation Sans, sans-serif" font-size="33.80"  fill="#000" transform="matrix(1 0 0 1.0000 1247.97 2212.20)">1.2</text>
<text font-family="Liberation Sans, sans-serif" font-size="33.80"  fill="#000" transform="matrix(1 0 0 1.0000 1343.94 2212.20)">1.5</text>
<text font-family="Liberation Sans, sans-serif" font-size="33.80"  fill="#000" transform="matrix(1 0 0 1.0000 1439.91 2212.20)">1.8</text>
<text font-family="Liberation Sans, sans-serif" font-size="1"  fill="#000" transform="matrix(38.1224 0 0 40.5530 1018.53 2262.50)">Atomic position (nm)</text>
<text font-family="Liberation Sans, sans-serif" font-size="1" fill="#000" transform="translate(806.60 2090.17) rotate(-90) scale(37.3641 40.2623)">Atomic fraction</text>
<line x1="927.80" y1="1762.30" x2="980.10" y2="1762.30" stroke="#008000" stroke-width="2.1"/>
<rect x="949.30" y="1757.70" width="9.20" height="9.20" fill="#008000"/>
<text font-family="Liberation Sans, sans-serif" font-size="34.60"  fill="#000" transform="matrix(1 0 0 1.0000 988.64 1770.40)">Cr</text>
<line x1="1043.80" y1="1762.30" x2="1096.10" y2="1762.30" stroke="#0000ff" stroke-width="2.1"/>
<circle cx="1069.90" cy="1762.30" r="5.60" fill="#0000ff"/>
<text font-family="Liberation Sans, sans-serif" font-size="34.60"  fill="#000" transform="matrix(1 0 0 1.0000 1104.76 1770.40)">Mn</text>
<line x1="1171.30" y1="1762.30" x2="1223.60" y2="1762.30" stroke="#ffff00" stroke-width="2.1"/>
<path d="M1197.40 1755.50 L1204.00 1766.90 L1190.80 1766.90 Z" fill="#ffff00"/>
<text font-family="Liberation Sans, sans-serif" font-size="34.60"  fill="#000" transform="matrix(1 0 0 1.0000 1232.26 1770.40)">Fe</text>
<line x1="927.80" y1="1804.60" x2="980.10" y2="1804.60" stroke="#00ffff" stroke-width="2.1"/>
<path d="M953.90 1811.40 L960.30 1800.00 L947.50 1800.00 Z" fill="#00ffff"/>
<text font-family="Liberation Sans, sans-serif" font-size="34.60"  fill="#000" transform="matrix(1 0 0 1.0000 988.64 1811.40)">Co</text>
<line x1="1051.30" y1="1804.60" x2="1103.60" y2="1804.60" stroke="#ff00ff" stroke-width="2.1"/>
<path d="M1077.40 1797.60 L1083.60 1804.60 L1077.40 1811.60 L1071.20 1804.60 Z" fill="#ff00ff"/>
<text font-family="Liberation Sans, sans-serif" font-size="34.60"  fill="#000" transform="matrix(1 0 0 1.0000 1111.46 1811.40)">Ni</text>
<text font-family="Liberation Sans, sans-serif" font-size="1"  fill="#000" transform="matrix(36.5441 0 0 38.3727 1368.10 1764.80)">Line 4</text>
<text font-family="Liberation Sans, sans-serif" font-size="1" font-weight="bold" fill="#000" transform="matrix(45.3861 0 0 50.3786 11.47 30.11)">a</text>
<text font-family="Liberation Sans, sans-serif" font-size="1" font-weight="bold" fill="#000" transform="matrix(49.2155 0 0 48.2043 438.76 35.93)">b</text>
<text font-family="Liberation Sans, sans-serif" font-size="1" font-weight="bold" fill="#000" transform="matrix(49.8162 0 0 51.1087 876.25 36.30)">c</text>
<text font-family="Liberation Sans, sans-serif" font-size="1" font-weight="bold" fill="#000" transform="matrix(50.0093 0 0 48.8851 2.65 422.22)">d</text>
<text font-family="Liberation Sans, sans-serif" font-size="1" font-weight="bold" fill="#000" transform="matrix(51.7695 0 0 50.3786 3.78 1180.31)">e</text>
<text font-family="Liberation Sans, sans-serif" font-size="1" font-weight="bold" fill="#000" transform="matrix(46.5598 0 0 49.1299 765.40 1179.90)">f</text>
<text font-family="Liberation Sans, sans-serif" font-size="1" font-weight="bold" fill="#000" transform="matrix(51.4983 0 0 49.8342 -3.11 1737.04)">g</text>
<text font-family="Liberation Sans, sans-serif" font-size="1" font-weight="bold" fill="#000" transform="matrix(48.6426 0 0 47.8879 767.30 1743.90)">h</text>
</svg>
</body></html>
